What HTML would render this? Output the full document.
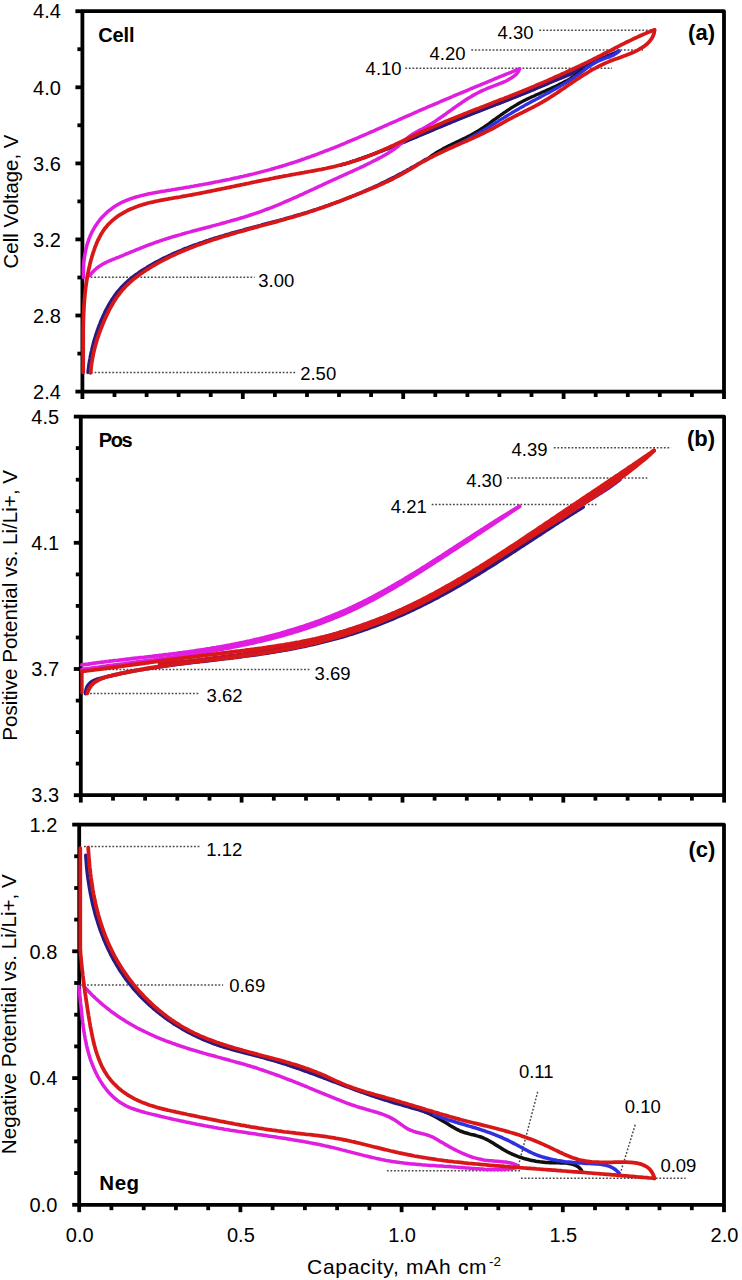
<!DOCTYPE html>
<html><head><meta charset="utf-8"><style>
html,body{margin:0;padding:0;background:#fff;}
svg{display:block;}
text{font-family:"Liberation Sans", sans-serif;fill:#000;}
</style></head><body>
<svg width="742" height="1280" viewBox="0 0 742 1280">
<rect width="742" height="1280" fill="#fff"/>
<line x1="75.4" y1="391.6" x2="82.4" y2="391.6" stroke="#000" stroke-width="3.8"/>
<line x1="77.4" y1="353.6" x2="82.4" y2="353.6" stroke="#000" stroke-width="3.8"/>
<line x1="75.4" y1="315.5" x2="82.4" y2="315.5" stroke="#000" stroke-width="3.8"/>
<line x1="77.4" y1="277.5" x2="82.4" y2="277.5" stroke="#000" stroke-width="3.8"/>
<line x1="75.4" y1="239.4" x2="82.4" y2="239.4" stroke="#000" stroke-width="3.8"/>
<line x1="77.4" y1="201.4" x2="82.4" y2="201.4" stroke="#000" stroke-width="3.8"/>
<line x1="75.4" y1="163.4" x2="82.4" y2="163.4" stroke="#000" stroke-width="3.8"/>
<line x1="77.4" y1="125.3" x2="82.4" y2="125.3" stroke="#000" stroke-width="3.8"/>
<line x1="75.4" y1="87.3" x2="82.4" y2="87.3" stroke="#000" stroke-width="3.8"/>
<line x1="77.4" y1="49.2" x2="82.4" y2="49.2" stroke="#000" stroke-width="3.8"/>
<line x1="75.4" y1="11.2" x2="82.4" y2="11.2" stroke="#000" stroke-width="3.8"/>
<line x1="82.4" y1="391.6" x2="82.4" y2="399.0" stroke="#000" stroke-width="3.8"/>
<line x1="114.5" y1="391.6" x2="114.5" y2="397.0" stroke="#000" stroke-width="3.8"/>
<line x1="146.6" y1="391.6" x2="146.6" y2="397.0" stroke="#000" stroke-width="3.8"/>
<line x1="178.6" y1="391.6" x2="178.6" y2="397.0" stroke="#000" stroke-width="3.8"/>
<line x1="210.7" y1="391.6" x2="210.7" y2="397.0" stroke="#000" stroke-width="3.8"/>
<line x1="242.8" y1="391.6" x2="242.8" y2="399.0" stroke="#000" stroke-width="3.8"/>
<line x1="274.9" y1="391.6" x2="274.9" y2="397.0" stroke="#000" stroke-width="3.8"/>
<line x1="307.0" y1="391.6" x2="307.0" y2="397.0" stroke="#000" stroke-width="3.8"/>
<line x1="339.0" y1="391.6" x2="339.0" y2="397.0" stroke="#000" stroke-width="3.8"/>
<line x1="371.1" y1="391.6" x2="371.1" y2="397.0" stroke="#000" stroke-width="3.8"/>
<line x1="403.2" y1="391.6" x2="403.2" y2="399.0" stroke="#000" stroke-width="3.8"/>
<line x1="435.3" y1="391.6" x2="435.3" y2="397.0" stroke="#000" stroke-width="3.8"/>
<line x1="467.4" y1="391.6" x2="467.4" y2="397.0" stroke="#000" stroke-width="3.8"/>
<line x1="499.4" y1="391.6" x2="499.4" y2="397.0" stroke="#000" stroke-width="3.8"/>
<line x1="531.5" y1="391.6" x2="531.5" y2="397.0" stroke="#000" stroke-width="3.8"/>
<line x1="563.6" y1="391.6" x2="563.6" y2="399.0" stroke="#000" stroke-width="3.8"/>
<line x1="595.7" y1="391.6" x2="595.7" y2="397.0" stroke="#000" stroke-width="3.8"/>
<line x1="627.8" y1="391.6" x2="627.8" y2="397.0" stroke="#000" stroke-width="3.8"/>
<line x1="659.8" y1="391.6" x2="659.8" y2="397.0" stroke="#000" stroke-width="3.8"/>
<line x1="691.9" y1="391.6" x2="691.9" y2="397.0" stroke="#000" stroke-width="3.8"/>
<line x1="724.0" y1="391.6" x2="724.0" y2="399.0" stroke="#000" stroke-width="3.8"/>
<path d="M82.4 11.2 L724.0 11.2 L724.0 391.6 L82.4 391.6 Z" fill="none" stroke="#000" stroke-width="3.8" stroke-linejoin="round"/>
<text x="60.9" y="18.4" font-size="20" text-anchor="end">4.4</text>
<text x="60.9" y="94.5" font-size="20" text-anchor="end">4.0</text>
<text x="60.9" y="170.6" font-size="20" text-anchor="end">3.6</text>
<text x="60.9" y="246.6" font-size="20" text-anchor="end">3.2</text>
<text x="60.9" y="322.7" font-size="20" text-anchor="end">2.8</text>
<text x="60.9" y="398.8" font-size="20" text-anchor="end">2.4</text>
<line x1="73.8" y1="795.2" x2="80.8" y2="795.2" stroke="#000" stroke-width="3.8"/>
<line x1="75.8" y1="763.6" x2="80.8" y2="763.6" stroke="#000" stroke-width="3.8"/>
<line x1="75.8" y1="732.1" x2="80.8" y2="732.1" stroke="#000" stroke-width="3.8"/>
<line x1="75.8" y1="700.6" x2="80.8" y2="700.6" stroke="#000" stroke-width="3.8"/>
<line x1="73.8" y1="669.0" x2="80.8" y2="669.0" stroke="#000" stroke-width="3.8"/>
<line x1="75.8" y1="637.5" x2="80.8" y2="637.5" stroke="#000" stroke-width="3.8"/>
<line x1="75.8" y1="605.9" x2="80.8" y2="605.9" stroke="#000" stroke-width="3.8"/>
<line x1="75.8" y1="574.4" x2="80.8" y2="574.4" stroke="#000" stroke-width="3.8"/>
<line x1="73.8" y1="542.8" x2="80.8" y2="542.8" stroke="#000" stroke-width="3.8"/>
<line x1="75.8" y1="511.2" x2="80.8" y2="511.2" stroke="#000" stroke-width="3.8"/>
<line x1="75.8" y1="479.7" x2="80.8" y2="479.7" stroke="#000" stroke-width="3.8"/>
<line x1="75.8" y1="448.1" x2="80.8" y2="448.1" stroke="#000" stroke-width="3.8"/>
<line x1="73.8" y1="416.6" x2="80.8" y2="416.6" stroke="#000" stroke-width="3.8"/>
<line x1="80.8" y1="795.2" x2="80.8" y2="802.6" stroke="#000" stroke-width="3.8"/>
<line x1="113.0" y1="795.2" x2="113.0" y2="800.6" stroke="#000" stroke-width="3.8"/>
<line x1="145.1" y1="795.2" x2="145.1" y2="800.6" stroke="#000" stroke-width="3.8"/>
<line x1="177.3" y1="795.2" x2="177.3" y2="800.6" stroke="#000" stroke-width="3.8"/>
<line x1="209.5" y1="795.2" x2="209.5" y2="800.6" stroke="#000" stroke-width="3.8"/>
<line x1="241.6" y1="795.2" x2="241.6" y2="802.6" stroke="#000" stroke-width="3.8"/>
<line x1="273.8" y1="795.2" x2="273.8" y2="800.6" stroke="#000" stroke-width="3.8"/>
<line x1="306.0" y1="795.2" x2="306.0" y2="800.6" stroke="#000" stroke-width="3.8"/>
<line x1="338.1" y1="795.2" x2="338.1" y2="800.6" stroke="#000" stroke-width="3.8"/>
<line x1="370.3" y1="795.2" x2="370.3" y2="800.6" stroke="#000" stroke-width="3.8"/>
<line x1="402.5" y1="795.2" x2="402.5" y2="802.6" stroke="#000" stroke-width="3.8"/>
<line x1="434.6" y1="795.2" x2="434.6" y2="800.6" stroke="#000" stroke-width="3.8"/>
<line x1="466.8" y1="795.2" x2="466.8" y2="800.6" stroke="#000" stroke-width="3.8"/>
<line x1="498.9" y1="795.2" x2="498.9" y2="800.6" stroke="#000" stroke-width="3.8"/>
<line x1="531.1" y1="795.2" x2="531.1" y2="800.6" stroke="#000" stroke-width="3.8"/>
<line x1="563.3" y1="795.2" x2="563.3" y2="802.6" stroke="#000" stroke-width="3.8"/>
<line x1="595.4" y1="795.2" x2="595.4" y2="800.6" stroke="#000" stroke-width="3.8"/>
<line x1="627.6" y1="795.2" x2="627.6" y2="800.6" stroke="#000" stroke-width="3.8"/>
<line x1="659.8" y1="795.2" x2="659.8" y2="800.6" stroke="#000" stroke-width="3.8"/>
<line x1="691.9" y1="795.2" x2="691.9" y2="800.6" stroke="#000" stroke-width="3.8"/>
<line x1="724.1" y1="795.2" x2="724.1" y2="802.6" stroke="#000" stroke-width="3.8"/>
<path d="M80.8 416.6 L724.1 416.6 L724.1 795.2 L80.8 795.2 Z" fill="none" stroke="#000" stroke-width="3.8" stroke-linejoin="round"/>
<text x="59.1" y="423.8" font-size="20" text-anchor="end">4.5</text>
<text x="59.1" y="550.0" font-size="20" text-anchor="end">4.1</text>
<text x="59.1" y="676.2" font-size="20" text-anchor="end">3.7</text>
<text x="59.1" y="802.4" font-size="20" text-anchor="end">3.3</text>
<line x1="72.2" y1="1204.8" x2="79.2" y2="1204.8" stroke="#000" stroke-width="3.8"/>
<line x1="74.2" y1="1173.1" x2="79.2" y2="1173.1" stroke="#000" stroke-width="3.8"/>
<line x1="74.2" y1="1141.4" x2="79.2" y2="1141.4" stroke="#000" stroke-width="3.8"/>
<line x1="74.2" y1="1109.8" x2="79.2" y2="1109.8" stroke="#000" stroke-width="3.8"/>
<line x1="72.2" y1="1078.1" x2="79.2" y2="1078.1" stroke="#000" stroke-width="3.8"/>
<line x1="74.2" y1="1046.4" x2="79.2" y2="1046.4" stroke="#000" stroke-width="3.8"/>
<line x1="74.2" y1="1014.7" x2="79.2" y2="1014.7" stroke="#000" stroke-width="3.8"/>
<line x1="74.2" y1="983.0" x2="79.2" y2="983.0" stroke="#000" stroke-width="3.8"/>
<line x1="72.2" y1="951.3" x2="79.2" y2="951.3" stroke="#000" stroke-width="3.8"/>
<line x1="74.2" y1="919.6" x2="79.2" y2="919.6" stroke="#000" stroke-width="3.8"/>
<line x1="74.2" y1="888.0" x2="79.2" y2="888.0" stroke="#000" stroke-width="3.8"/>
<line x1="74.2" y1="856.3" x2="79.2" y2="856.3" stroke="#000" stroke-width="3.8"/>
<line x1="72.2" y1="824.6" x2="79.2" y2="824.6" stroke="#000" stroke-width="3.8"/>
<line x1="79.2" y1="1204.8" x2="79.2" y2="1212.2" stroke="#000" stroke-width="3.8"/>
<line x1="111.4" y1="1204.8" x2="111.4" y2="1210.2" stroke="#000" stroke-width="3.8"/>
<line x1="143.7" y1="1204.8" x2="143.7" y2="1210.2" stroke="#000" stroke-width="3.8"/>
<line x1="175.9" y1="1204.8" x2="175.9" y2="1210.2" stroke="#000" stroke-width="3.8"/>
<line x1="208.2" y1="1204.8" x2="208.2" y2="1210.2" stroke="#000" stroke-width="3.8"/>
<line x1="240.4" y1="1204.8" x2="240.4" y2="1212.2" stroke="#000" stroke-width="3.8"/>
<line x1="272.6" y1="1204.8" x2="272.6" y2="1210.2" stroke="#000" stroke-width="3.8"/>
<line x1="304.9" y1="1204.8" x2="304.9" y2="1210.2" stroke="#000" stroke-width="3.8"/>
<line x1="337.1" y1="1204.8" x2="337.1" y2="1210.2" stroke="#000" stroke-width="3.8"/>
<line x1="369.4" y1="1204.8" x2="369.4" y2="1210.2" stroke="#000" stroke-width="3.8"/>
<line x1="401.6" y1="1204.8" x2="401.6" y2="1212.2" stroke="#000" stroke-width="3.8"/>
<line x1="433.8" y1="1204.8" x2="433.8" y2="1210.2" stroke="#000" stroke-width="3.8"/>
<line x1="466.1" y1="1204.8" x2="466.1" y2="1210.2" stroke="#000" stroke-width="3.8"/>
<line x1="498.3" y1="1204.8" x2="498.3" y2="1210.2" stroke="#000" stroke-width="3.8"/>
<line x1="530.6" y1="1204.8" x2="530.6" y2="1210.2" stroke="#000" stroke-width="3.8"/>
<line x1="562.8" y1="1204.8" x2="562.8" y2="1212.2" stroke="#000" stroke-width="3.8"/>
<line x1="595.0" y1="1204.8" x2="595.0" y2="1210.2" stroke="#000" stroke-width="3.8"/>
<line x1="627.3" y1="1204.8" x2="627.3" y2="1210.2" stroke="#000" stroke-width="3.8"/>
<line x1="659.5" y1="1204.8" x2="659.5" y2="1210.2" stroke="#000" stroke-width="3.8"/>
<line x1="691.8" y1="1204.8" x2="691.8" y2="1210.2" stroke="#000" stroke-width="3.8"/>
<line x1="724.0" y1="1204.8" x2="724.0" y2="1212.2" stroke="#000" stroke-width="3.8"/>
<path d="M79.2 824.6 L724.0 824.6 L724.0 1204.8 L79.2 1204.8 Z" fill="none" stroke="#000" stroke-width="3.8" stroke-linejoin="round"/>
<text x="57.3" y="831.8" font-size="20" text-anchor="end">1.2</text>
<text x="57.3" y="958.5" font-size="20" text-anchor="end">0.8</text>
<text x="57.3" y="1085.3" font-size="20" text-anchor="end">0.4</text>
<text x="57.3" y="1212.0" font-size="20" text-anchor="end">0.0</text>
<line x1="539.3" y1="30.2" x2="655.2" y2="30.2" stroke="#4a4a4a" stroke-width="1.5" stroke-dasharray="1.8 1.75"/>
<text x="497.5" y="39.0" font-size="18.5" text-anchor="start">4.30</text>
<line x1="471.3" y1="50.0" x2="643.0" y2="50.0" stroke="#4a4a4a" stroke-width="1.5" stroke-dasharray="1.8 1.75"/>
<text x="429.5" y="60.3" font-size="18.5" text-anchor="start">4.20</text>
<line x1="405.3" y1="68.2" x2="612.0" y2="68.2" stroke="#4a4a4a" stroke-width="1.5" stroke-dasharray="1.8 1.75"/>
<text x="365.6" y="75.1" font-size="18.5" text-anchor="start">4.10</text>
<line x1="83.6" y1="277.2" x2="254.7" y2="277.2" stroke="#4a4a4a" stroke-width="1.5" stroke-dasharray="1.8 1.75"/>
<text x="258.3" y="286.7" font-size="18.5" text-anchor="start">3.00</text>
<line x1="91.0" y1="372.5" x2="296.5" y2="372.5" stroke="#4a4a4a" stroke-width="1.5" stroke-dasharray="1.8 1.75"/>
<text x="300.2" y="380.2" font-size="18.5" text-anchor="start">2.50</text>
<path d="M87.9 372.5 L88.1 370.5 L88.4 368.6 L88.6 366.6 L88.9 364.6 L89.2 362.6 L89.5 360.7 L89.9 358.7 L90.2 356.7 L90.6 354.7 L91.0 352.8 L91.5 350.8 L91.9 348.9 L92.4 346.9 L92.9 344.9 L93.4 343.0 L93.9 341.0 L94.5 339.1 L95.1 337.2 L95.7 335.2 L96.3 333.3 L97.0 331.4 L97.6 329.5 L98.3 327.6 L99.0 325.7 L99.8 323.8 L100.5 321.9 L101.3 320.0 L102.1 318.2 L102.9 316.3 L103.8 314.5 L104.6 312.6 L105.5 310.8 L106.4 309.0 L107.4 307.2 L108.4 305.4 L109.4 303.7 L110.4 302.0 L111.5 300.2 L112.5 298.6 L113.7 296.9 L114.8 295.3 L116.0 293.6 L117.2 292.1 L118.5 290.5 L119.8 289.0 L121.1 287.5 L122.5 286.1 L123.9 284.7 L125.3 283.3 L126.8 281.9 L128.3 280.6 L129.8 279.3 L131.3 278.1 L132.9 276.8 L134.5 275.6 L136.1 274.4 L137.8 273.3 L139.4 272.1 L141.1 271.0 L142.8 269.9 L144.5 268.8 L146.2 267.8 L147.9 266.7 L149.6 265.7 L151.4 264.7 L153.1 263.7 L154.8 262.8 L156.6 261.8 L158.4 260.9 L160.1 259.9 L161.9 259.0 L163.7 258.1 L165.5 257.2 L167.3 256.4 L169.1 255.5 L170.9 254.7 L172.7 253.8 L174.5 253.0 L176.4 252.2 L178.2 251.4 L180.0 250.7 L181.9 249.9 L183.7 249.1 L185.6 248.4 L187.4 247.7 L189.3 246.9 L191.2 246.2 L193.0 245.5 L194.9 244.8 L196.8 244.2 L198.7 243.5 L200.6 242.8 L202.5 242.2 L204.4 241.5 L206.3 240.9 L208.2 240.3 L210.1 239.6 L212.0 239.0 L213.9 238.4 L215.8 237.8 L217.7 237.2 L219.7 236.6 L221.6 236.0 L223.5 235.5 L225.5 234.9 L227.4 234.3 L229.3 233.8 L231.3 233.2 L233.2 232.7 L235.1 232.1 L237.1 231.6 L239.0 231.0 L241.0 230.5 L242.9 230.0 L244.9 229.4 L246.8 228.9 L248.8 228.4 L250.7 227.9 L252.7 227.3 L254.6 226.8 L256.6 226.3 L258.6 225.8 L260.5 225.3 L262.5 224.7 L264.4 224.2 L266.4 223.7 L268.3 223.2 L270.3 222.7 L272.3 222.1 L274.2 221.6 L276.2 221.1 L278.1 220.6 L280.1 220.0 L282.0 219.5 L284.0 219.0 L285.9 218.4 L287.9 217.9 L289.8 217.3 L291.8 216.8 L293.7 216.2 L295.6 215.7 L297.6 215.1 L299.5 214.5 L301.4 214.0 L303.4 213.4 L305.3 212.8 L307.2 212.2 L309.2 211.6 L311.1 211.0 L313.0 210.4 L314.9 209.8 L316.8 209.2 L318.7 208.5 L320.6 207.9 L322.5 207.3 L324.4 206.6 L326.3 205.9 L328.2 205.3 L330.1 204.6 L332.0 203.9 L333.9 203.3 L335.8 202.6 L337.7 201.9 L339.5 201.2 L341.4 200.5 L343.3 199.8 L345.2 199.0 L347.0 198.3 L348.9 197.6 L350.8 196.8 L352.6 196.1 L354.5 195.3 L356.3 194.6 L358.2 193.8 L360.0 193.0 L361.8 192.2 L363.7 191.4 L365.5 190.6 L367.4 189.8 L369.2 189.0 L371.0 188.2 L372.8 187.4 L374.7 186.5 L376.5 185.7 L378.3 184.9 L380.1 184.0 L381.9 183.1 L383.7 182.3 L385.5 181.4 L387.3 180.5 L389.1 179.6 L390.9 178.7 L392.7 177.8 L394.5 176.9 L396.2 176.0 L398.0 175.0 L399.8 174.1 L401.6 173.2 L403.3 172.2 L405.1 171.3 L406.8 170.3 L408.6 169.3 L410.3 168.3 L412.1 167.3 L413.8 166.4 L415.6 165.3 L417.3 164.3 L419.1 163.3 L420.8 162.3 L422.5 161.3 L424.2 160.2 L426.0 159.2" fill="none" stroke="#2a1a80" stroke-width="3.30" stroke-linecap="round" stroke-linejoin="round"/>
<path d="M341.0 165.0 L342.9 164.4 L344.9 163.8 L346.8 163.2 L348.7 162.6 L350.6 162.0 L352.6 161.3 L354.5 160.7 L356.4 160.1 L358.3 159.4 L360.2 158.7 L362.1 158.1 L364.0 157.4 L365.9 156.7 L367.8 156.0 L369.7 155.4 L371.6 154.7 L373.5 154.0 L375.4 153.3 L377.3 152.5 L379.2 151.8 L381.0 151.1 L382.9 150.4 L384.8 149.6 L386.7 148.9 L388.6 148.2 L390.4 147.4 L392.3 146.7 L394.2 145.9 L396.1 145.2 L397.9 144.4 L399.8 143.7 L401.7 142.9 L403.5 142.1 L405.4 141.4 L407.3 140.6 L409.1 139.8 L411.0 139.0 L412.8 138.3 L414.7 137.5 L416.6 136.7 L418.4 135.9 L420.3 135.1 L422.2 134.3 L424.0 133.6 L425.9 132.8 L427.7 132.0 L429.6 131.2 L431.5 130.4 L433.3 129.6 L435.2 128.8 L437.0 128.0 L438.9 127.3 L440.8 126.5 L442.6 125.7 L444.5 124.9 L446.3 124.1 L448.2 123.3 L450.1 122.6 L451.9 121.8 L453.8 121.0 L455.7 120.2 L457.5 119.5 L459.4 118.7 L461.3 117.9 L463.1 117.2 L465.0 116.4 L466.9 115.7 L468.8 114.9 L470.6 114.2 L472.5 113.4 L474.4 112.7 L476.3 111.9 L478.1 111.2 L480.0 110.5 L481.9 109.7 L483.8 109.0 L485.7 108.3 L487.6 107.5 L489.4 106.8 L491.3 106.1 L493.2 105.4 L495.1 104.6 L497.0 103.9 L498.9 103.2 L500.8 102.5 L502.6 101.7 L504.5 101.0 L506.4 100.3 L508.3 99.5 L510.2 98.8 L512.0 98.0 L513.9 97.3 L515.8 96.6 L517.7 95.8 L519.5 95.1 L521.4 94.3 L523.3 93.5 L525.2 92.8 L527.0 92.0 L528.9 91.2 L530.7 90.5 L532.6 89.7 L534.5 88.9 L536.3 88.1 L538.2 87.3 L540.0 86.5 L541.9 85.7 L543.7 84.9 L545.6 84.1 L547.4 83.3 L549.3 82.5 L551.1 81.7 L553.0 80.8 L554.8 80.0 L556.6 79.2 L558.5 78.3 L560.3 77.5 L562.1 76.6 L564.0 75.8 L565.8 74.9 L567.6 74.1 L569.5 73.2 L571.3 72.4 L573.1 71.5 L574.9 70.7 L576.8 69.8 L578.6 68.9 L580.4 68.1 L582.2 67.2 L584.1 66.4 L585.9 65.5 L587.7 64.7 L589.5 63.8 L591.4 63.0 L593.2 62.1 L595.0 61.3 L596.9 60.5 L598.7 59.6 L600.5 58.8 L602.4 58.0 L604.2 57.2 L606.1 56.4 L607.9 55.6 L609.8 54.8 L611.6 54.1 L613.5 53.3 L615.4 52.6 L617.2 51.8 L619.1 51.1" fill="none" stroke="#2a1a80" stroke-width="3.30" stroke-linecap="round" stroke-linejoin="round"/>
<path d="M341.0 165.0 L342.9 164.4 L344.9 163.8 L346.8 163.3 L348.7 162.7 L350.6 162.0 L352.6 161.4 L354.5 160.8 L356.4 160.2 L358.3 159.5 L360.2 158.9 L362.1 158.2 L364.0 157.6 L365.9 156.9 L367.8 156.2 L369.7 155.5 L371.6 154.8 L373.5 154.1 L375.4 153.4 L377.3 152.7 L379.2 152.0 L381.0 151.3 L382.9 150.6 L384.8 149.8 L386.7 149.1 L388.5 148.4 L390.4 147.6 L392.3 146.9 L394.2 146.1 L396.0 145.4 L397.9 144.6 L399.8 143.9 L401.6 143.1 L403.5 142.3 L405.4 141.6 L407.2 140.8 L409.1 140.0 L410.9 139.2 L412.8 138.5 L414.7 137.7 L416.5 136.9 L418.4 136.1 L420.2 135.3 L422.1 134.6 L423.9 133.8 L425.8 133.0 L427.7 132.2 L429.5 131.4 L431.4 130.6 L433.2 129.9 L435.1 129.1 L436.9 128.3 L438.8 127.5 L440.7 126.7 L442.5 125.9 L444.4 125.2 L446.2 124.4 L448.1 123.6 L450.0 122.9 L451.8 122.1 L453.7 121.3 L455.6 120.6 L457.4 119.8 L459.3 119.0 L461.2 118.3 L463.0 117.5 L464.9 116.8 L466.8 116.0 L468.7 115.3 L470.5 114.6 L472.4 113.8 L474.3 113.1 L476.2 112.3 L478.0 111.6 L479.9 110.9 L481.8 110.1 L483.7 109.4 L485.5 108.7 L487.4 108.0 L489.3 107.2 L491.2 106.5 L493.1 105.8 L494.9 105.0 L496.8 104.3 L498.7 103.6 L500.6 102.9 L502.5 102.1 L504.3 101.4 L506.2 100.7 L508.1 99.9 L510.0 99.2 L511.8 98.4 L513.7 97.7 L515.6 97.0 L517.5 96.2 L519.3 95.5 L521.2 94.7 L523.1 94.0 L525.0 93.2 L526.8 92.4 L528.7 91.7 L530.6 90.9 L532.4 90.1 L534.3 89.4 L536.2 88.6 L538.0 87.8 L539.9 87.0 L541.7 86.2 L543.6 85.4 L545.5 84.7 L547.3 83.9 L549.2 83.1 L551.0 82.3 L552.9 81.5 L554.7 80.8 L556.6 80.0 L558.4 79.2 L560.3 78.5 L562.1 77.7 L564.0 77.0 L565.8 76.3 L567.7 75.5 L569.5 74.8 L571.4 74.1 L573.2 73.4 L575.1 72.7 L576.9 72.0 L578.8 71.4 L580.6 70.7 L582.5 70.1" fill="none" stroke="#2a1a80" stroke-width="3.30" stroke-linecap="round" stroke-linejoin="round"/>
<path d="M582.5 70.1 L580.9 71.4 L579.3 72.6 L577.6 73.9 L576.0 75.0 L574.3 76.2 L572.6 77.3 L570.8 78.3 L569.1 79.4 L567.3 80.4 L565.5 81.3 L563.7 82.3 L561.9 83.2 L560.1 84.1 L558.3 85.0 L556.4 85.9 L554.6 86.8 L552.7 87.6 L550.9 88.5 L549.0 89.3 L547.1 90.1 L545.3 90.9 L543.4 91.7 L541.5 92.6 L539.7 93.4 L537.8 94.2 L535.9 95.0 L534.1 95.9 L532.2 96.7 L530.4 97.6 L528.5 98.4 L526.7 99.3 L524.9 100.2 L523.1 101.1 L521.3 102.1 L519.5 103.0 L517.8 104.0 L516.0 105.1 L514.3 106.1 L512.6 107.1 L510.9 108.2 L509.2 109.3 L507.5 110.4 L505.8 111.6 L504.1 112.7 L502.5 113.9 L500.8 115.0 L499.2 116.2 L497.5 117.4 L495.9 118.6 L494.3 119.7 L492.6 120.9 L491.0 122.1 L489.4 123.3 L487.7 124.5 L486.1 125.6 L484.4 126.8 L482.8 127.9 L481.1 129.0 L479.4 130.1 L477.7 131.1 L475.9 132.2 L474.2 133.2 L472.4 134.2 L470.7 135.1 L468.9 136.1 L467.1 137.0 L465.3 137.9 L463.4 138.8 L461.6 139.7 L459.8 140.6 L457.9 141.4 L456.1 142.3 L454.3 143.2 L452.4 144.1 L450.6 144.9 L448.8 145.8 L447.0 146.7 L445.1 147.7 L443.3 148.6 L441.6 149.6 L439.8 150.6 L438.0 151.6 L436.3 152.7 L434.6 153.8 L432.9 154.9 L431.2 156.1 L429.6 157.3 L428.0 158.6" fill="none" stroke="#101010" stroke-width="3.30" stroke-linecap="round" stroke-linejoin="round"/>
<path d="M619.1 51.1 L617.6 52.5 L616.0 53.7 L614.3 54.7 L612.6 55.6 L610.7 56.4 L608.8 57.2 L606.9 57.8 L604.9 58.5 L603.0 59.2 L601.1 59.9 L599.2 60.7 L597.4 61.5 L595.6 62.5 L593.8 63.5 L592.1 64.6 L590.4 65.7 L588.7 66.8 L587.1 68.0 L585.4 69.2 L583.8 70.5 L582.1 71.7 L580.5 72.9 L578.9 74.1 L577.2 75.3 L575.5 76.5 L573.8 77.6 L572.1 78.8 L570.4 79.9 L568.7 81.0 L567.0 82.1 L565.3 83.1 L563.5 84.2 L561.8 85.2 L560.0 86.3 L558.3 87.3 L556.5 88.3 L554.7 89.3 L552.9 90.3 L551.2 91.2 L549.4 92.2 L547.6 93.2 L545.8 94.1 L544.0 95.1 L542.2 96.1 L540.4 97.0 L538.6 98.0 L536.8 98.9 L535.0 99.9 L533.2 100.8 L531.4 101.8 L529.6 102.8 L527.8 103.7 L526.0 104.7 L524.3 105.7 L522.5 106.7 L520.7 107.7 L519.0 108.7 L517.2 109.7 L515.4 110.7 L513.7 111.8 L511.9 112.8 L510.2 113.9 L508.5 114.9 L506.7 116.0 L505.0 117.0 L503.3 118.1 L501.5 119.2 L499.8 120.2 L498.1 121.3 L496.3 122.4 L494.6 123.5 L492.9 124.5 L491.1 125.6 L489.4 126.7 L487.7 127.7 L485.9 128.8 L484.2 129.8 L482.5 130.9 L480.7 131.9 L479.0 133.0 L477.2 134.0 L475.4 135.0 L473.7 136.0 L471.9 137.0 L470.1 138.0 L468.3 139.0 L466.5 139.9 L464.7 140.9 L462.9 141.8 L461.1 142.8 L459.3 143.7 L457.4 144.6 L455.6 145.5 L453.7 146.3 L451.9 147.2 L450.0 148.0" fill="none" stroke="#3030e0" stroke-width="3.30" stroke-linecap="round" stroke-linejoin="round"/>
<path d="M83.5 277.5 L83.4 275.5 L83.4 273.6 L83.4 271.6 L83.4 269.6 L83.5 267.6 L83.6 265.5 L83.7 263.5 L83.9 261.5 L84.1 259.4 L84.4 257.4 L84.7 255.4 L85.1 253.3 L85.5 251.3 L85.9 249.3 L86.4 247.3 L86.9 245.3 L87.5 243.3 L88.2 241.4 L88.8 239.4 L89.6 237.5 L90.3 235.6 L91.2 233.8 L92.0 232.0 L93.0 230.2 L94.0 228.4 L95.0 226.7 L96.1 225.0 L97.2 223.4 L98.4 221.8 L99.6 220.2 L100.8 218.7 L102.1 217.2 L103.5 215.8 L104.9 214.4 L106.3 213.0 L107.7 211.7 L109.2 210.5 L110.8 209.3 L112.3 208.1 L113.9 207.0 L115.5 205.9 L117.2 204.9 L118.9 204.0 L120.6 203.0 L122.3 202.2 L124.1 201.4 L125.9 200.6 L127.7 199.8 L129.6 199.1 L131.4 198.5 L133.3 197.9 L135.2 197.3 L137.1 196.7 L139.1 196.2 L141.0 195.6 L143.0 195.2 L145.0 194.7 L146.9 194.3 L148.9 193.8 L150.9 193.4 L153.0 193.1 L155.0 192.7 L157.0 192.3 L159.0 192.0 L161.1 191.6 L163.1 191.3 L165.1 191.0 L167.2 190.6 L169.2 190.3 L171.3 190.0 L173.3 189.6 L175.3 189.3 L177.3 188.9 L179.4 188.6 L181.4 188.3 L183.4 187.9 L185.4 187.6 L187.4 187.2 L189.4 186.9 L191.4 186.5 L193.5 186.2 L195.5 185.8 L197.5 185.5 L199.5 185.1 L201.5 184.8 L203.4 184.4 L205.4 184.0 L207.4 183.7 L209.4 183.3 L211.4 182.9 L213.4 182.5 L215.4 182.1 L217.4 181.8 L219.3 181.4 L221.3 181.0 L223.3 180.6 L225.2 180.2 L227.2 179.8 L229.2 179.4 L231.1 178.9 L233.1 178.5 L235.1 178.1 L237.0 177.7 L239.0 177.2 L240.9 176.8 L242.9 176.4 L244.8 175.9 L246.8 175.5 L248.7 175.0 L250.7 174.5 L252.6 174.1 L254.6 173.6 L256.5 173.1 L258.4 172.6 L260.4 172.1 L262.3 171.6 L264.2 171.1 L266.1 170.6 L268.1 170.1 L270.0 169.6 L271.9 169.0 L273.8 168.5 L275.7 167.9 L277.7 167.4 L279.6 166.8 L281.5 166.3 L283.4 165.7 L285.3 165.1 L287.2 164.5 L289.1 163.9 L291.0 163.3 L292.9 162.7 L294.8 162.1 L296.7 161.5 L298.6 160.8 L300.5 160.2 L302.4 159.5 L304.3 158.9 L306.2 158.2 L308.0 157.5 L309.9 156.9 L311.8 156.2 L313.7 155.5 L315.6 154.8 L317.4 154.1 L319.3 153.4 L321.2 152.7 L323.1 152.0 L324.9 151.2 L326.8 150.5 L328.7 149.8 L330.6 149.0 L332.4 148.3 L334.3 147.6 L336.2 146.8 L338.0 146.1 L339.9 145.3 L341.7 144.5 L343.6 143.8 L345.5 143.0 L347.3 142.2 L349.2 141.4 L351.0 140.7 L352.9 139.9 L354.7 139.1 L356.6 138.3 L358.5 137.5 L360.3 136.7 L362.2 135.9 L364.0 135.1 L365.9 134.3 L367.7 133.5 L369.6 132.7 L371.4 131.9 L373.3 131.1 L375.1 130.3 L376.9 129.4 L378.8 128.6 L380.6 127.8 L382.5 127.0 L384.3 126.2 L386.2 125.4 L388.0 124.5 L389.9 123.7 L391.7 122.9 L393.6 122.1 L395.4 121.3 L397.2 120.5 L399.1 119.6 L400.9 118.8 L402.8 118.0 L404.6 117.2 L406.5 116.4 L408.3 115.6 L410.1 114.8 L412.0 114.0 L413.8 113.2 L415.7 112.3 L417.5 111.5 L419.4 110.7 L421.2 109.9 L423.0 109.1 L424.9 108.3 L426.7 107.5 L428.6 106.7 L430.4 106.0 L432.3 105.2 L434.1 104.4 L436.0 103.6 L437.8 102.8 L439.6 102.0 L441.5 101.2 L443.3 100.4 L445.2 99.6 L447.0 98.8 L448.9 98.1 L450.7 97.3 L452.6 96.5 L454.4 95.7 L456.3 94.9 L458.1 94.2 L460.0 93.4 L461.8 92.6 L463.7 91.8 L465.5 91.1 L467.4 90.3 L469.2 89.5 L471.1 88.7 L472.9 88.0 L474.8 87.2 L476.7 86.4 L478.5 85.6 L480.4 84.9 L482.2 84.1 L484.1 83.3 L485.9 82.6 L487.8 81.8 L489.7 81.0 L491.5 80.3 L493.4 79.5 L495.2 78.7 L497.1 78.0 L499.0 77.2 L500.8 76.4 L502.7 75.7 L504.6 74.9 L506.4 74.1 L508.3 73.4 L510.2 72.6 L512.0 71.9 L513.9 71.1 L515.8 70.3 L517.6 69.6 L519.5 68.8" fill="none" stroke="#e01ee0" stroke-width="3.52" stroke-linecap="round" stroke-linejoin="round"/>
<path d="M519.5 68.8 L518.9 70.5 L518.1 72.0 L517.0 73.4 L515.8 74.7 L514.3 75.9 L512.8 77.1 L511.2 78.1 L509.5 79.1 L507.8 80.1 L506.0 81.0 L504.1 81.8 L502.3 82.6 L500.4 83.4 L498.4 84.2 L496.5 84.9 L494.5 85.7 L492.6 86.4 L490.6 87.1 L488.7 87.9 L486.8 88.7 L484.9 89.5 L483.0 90.3 L481.1 91.2 L479.3 92.1 L477.5 93.0 L475.7 94.0 L474.0 94.9 L472.2 95.9 L470.5 97.0 L468.8 98.0 L467.1 99.1 L465.5 100.1 L463.8 101.2 L462.1 102.3 L460.5 103.5 L458.9 104.6 L457.2 105.7 L455.6 106.9 L454.0 108.0 L452.4 109.2 L450.7 110.4 L449.1 111.5 L447.5 112.7 L445.9 113.9 L444.2 115.0 L442.6 116.2 L441.0 117.3 L439.3 118.5 L437.6 119.6 L436.0 120.8 L434.3 121.9 L432.6 123.0 L430.9 124.0 L429.2 125.1 L427.4 126.1 L425.7 127.1 L423.9 128.0 L422.2 129.0 L420.4 129.9 L418.6 130.8 L416.9 131.7 L415.1 132.7 L413.4 133.7 L411.8 134.8 L410.1 135.9 L408.5 137.1 L407.0 138.3 L405.4 139.6 L403.9 140.9 L402.4 142.3 L400.9 143.6 L399.4 145.0 L397.9 146.3 L396.3 147.5 L394.7 148.8 L393.1 149.9 L391.4 151.1 L389.7 152.1 L388.0 153.2 L386.3 154.2 L384.5 155.2 L382.7 156.2 L381.0 157.2 L379.2 158.1 L377.4 159.1 L375.7 160.0 L373.9 160.9 L372.1 161.8 L370.3 162.7 L368.5 163.6 L366.7 164.5 L364.9 165.4 L363.0 166.3 L361.2 167.1 L359.4 168.0 L357.6 168.8 L355.8 169.7 L353.9 170.5 L352.1 171.4 L350.3 172.2 L348.4 173.0 L346.6 173.9 L344.8 174.7 L342.9 175.5 L341.1 176.4 L339.3 177.2 L337.4 178.0 L335.6 178.9 L333.8 179.7 L331.9 180.5 L330.1 181.4 L328.3 182.2 L326.4 183.0 L324.6 183.9 L322.8 184.7 L321.0 185.6 L319.1 186.4 L317.3 187.3 L315.5 188.1 L313.7 189.0 L311.8 189.8 L310.0 190.7 L308.2 191.5 L306.3 192.4 L304.5 193.2 L302.7 194.1 L300.9 194.9 L299.0 195.7 L297.2 196.6 L295.4 197.4 L293.5 198.2 L291.7 199.0 L289.8 199.8 L288.0 200.6 L286.2 201.4 L284.3 202.2 L282.5 203.0 L280.6 203.8 L278.8 204.6 L276.9 205.3 L275.0 206.1 L273.2 206.8 L271.3 207.6 L269.4 208.3 L267.6 209.0 L265.7 209.7 L263.8 210.4 L261.9 211.1 L260.0 211.8 L258.1 212.5 L256.2 213.1 L254.3 213.8 L252.4 214.4 L250.5 215.0 L248.6 215.7 L246.7 216.3 L244.7 216.9 L242.8 217.5 L240.9 218.0 L239.0 218.6 L237.0 219.2 L235.1 219.7 L233.1 220.3 L231.2 220.8 L229.3 221.4 L227.3 221.9 L225.4 222.5 L223.4 223.0 L221.5 223.5 L219.5 224.1 L217.6 224.6 L215.6 225.1 L213.7 225.6 L211.7 226.1 L209.8 226.7 L207.8 227.2 L205.8 227.7 L203.9 228.2 L201.9 228.7 L200.0 229.2 L198.0 229.8 L196.1 230.3 L194.1 230.8 L192.2 231.3 L190.2 231.9 L188.3 232.4 L186.3 232.9 L184.4 233.5 L182.5 234.0 L180.5 234.6 L178.6 235.1 L176.7 235.7 L174.7 236.3 L172.8 236.8 L170.9 237.4 L169.0 238.0 L167.0 238.6 L165.1 239.2 L163.2 239.9 L161.3 240.5 L159.4 241.1 L157.5 241.8 L155.6 242.4 L153.7 243.1 L151.8 243.8 L150.0 244.5 L148.1 245.2 L146.2 245.9 L144.4 246.6 L142.5 247.4 L140.6 248.1 L138.8 248.9 L136.9 249.6 L135.1 250.4 L133.2 251.2 L131.3 251.9 L129.5 252.7 L127.6 253.5 L125.7 254.2 L123.9 255.0 L122.0 255.8 L120.1 256.5 L118.2 257.3 L116.3 258.0 L114.4 258.8 L112.5 259.5 L110.7 260.3 L108.8 261.2 L107.0 262.0 L105.2 262.9 L103.4 263.8 L101.7 264.8 L100.0 265.9 L98.4 267.0 L96.8 268.2 L95.3 269.5 L93.8 270.9 L92.4 272.3 L91.1 273.9 L89.9 275.6" fill="none" stroke="#e01ee0" stroke-width="3.52" stroke-linecap="round" stroke-linejoin="round"/>
<path d="M83.2 372.5 L83.2 370.5 L83.2 368.6 L83.2 366.6 L83.2 364.7 L83.2 362.7 L83.2 360.7 L83.2 358.7 L83.2 356.7 L83.2 354.7 L83.2 352.7 L83.2 350.7 L83.2 348.7 L83.2 346.7 L83.2 344.7 L83.2 342.7 L83.2 340.7 L83.2 338.7 L83.2 336.7 L83.2 334.7 L83.2 332.6 L83.2 330.6 L83.2 328.6 L83.3 326.6 L83.3 324.5 L83.4 322.5 L83.4 320.5 L83.5 318.5 L83.5 316.4 L83.6 314.4 L83.7 312.4 L83.8 310.3 L83.9 308.3 L84.0 306.3 L84.1 304.3 L84.3 302.2 L84.4 300.2 L84.6 298.2 L84.8 296.2 L85.0 294.1 L85.2 292.1 L85.4 290.1 L85.6 288.1 L85.9 286.1 L86.2 284.1 L86.5 282.1 L86.8 280.1 L87.1 278.1 L87.4 276.1 L87.8 274.1 L88.2 272.1 L88.6 270.1 L89.0 268.2 L89.5 266.2 L89.9 264.2 L90.4 262.3 L90.9 260.3 L91.5 258.3 L92.0 256.4 L92.6 254.5 L93.2 252.5 L93.9 250.6 L94.5 248.7 L95.2 246.8 L96.0 244.9 L96.7 243.0 L97.5 241.2 L98.4 239.4 L99.3 237.6 L100.2 235.9 L101.1 234.1 L102.2 232.5 L103.2 230.8 L104.4 229.2 L105.5 227.7 L106.8 226.2 L108.0 224.7 L109.4 223.3 L110.8 222.0 L112.2 220.7 L113.7 219.4 L115.2 218.2 L116.7 217.0 L118.3 215.9 L119.9 214.8 L121.6 213.8 L123.3 212.8 L125.0 211.8 L126.8 210.9 L128.5 210.0 L130.3 209.2 L132.1 208.4 L134.0 207.7 L135.9 206.9 L137.7 206.3 L139.6 205.6 L141.6 205.0 L143.5 204.4 L145.4 203.9 L147.4 203.3 L149.4 202.8 L151.4 202.3 L153.4 201.9 L155.4 201.4 L157.4 201.0 L159.4 200.6 L161.4 200.2 L163.5 199.8 L165.5 199.4 L167.6 199.1 L169.6 198.7 L171.6 198.4 L173.7 198.0 L175.7 197.7 L177.8 197.3 L179.8 197.0 L181.8 196.6 L183.8 196.2 L185.9 195.9 L187.9 195.5 L189.9 195.2 L191.9 194.8 L193.9 194.4 L195.9 194.0 L197.9 193.7 L199.9 193.3 L201.9 192.9 L203.8 192.5 L205.8 192.1 L207.8 191.7 L209.8 191.3 L211.7 190.9 L213.7 190.5 L215.7 190.1 L217.6 189.7 L219.6 189.3 L221.5 188.9 L223.5 188.5 L225.4 188.1 L227.4 187.7 L229.3 187.3 L231.3 186.9 L233.2 186.5 L235.2 186.1 L237.1 185.7 L239.0 185.3 L241.0 184.9 L242.9 184.5 L244.9 184.1 L246.8 183.7 L248.8 183.3 L250.7 182.8 L252.6 182.4 L254.6 182.0 L256.5 181.6 L258.5 181.2 L260.4 180.8 L262.3 180.4 L264.3 180.0 L266.2 179.6 L268.2 179.3 L270.1 178.9 L272.1 178.5 L274.0 178.1 L276.0 177.7 L278.0 177.3 L279.9 176.9 L281.9 176.6 L283.8 176.2 L285.8 175.8 L287.8 175.5 L289.8 175.1 L291.7 174.7 L293.7 174.4 L295.7 174.0 L297.7 173.7 L299.7 173.3 L301.7 172.9 L303.7 172.6 L305.6 172.2 L307.6 171.9 L309.6 171.5 L311.6 171.2 L313.6 170.8 L315.6 170.4 L317.6 170.0 L319.6 169.6 L321.6 169.3 L323.6 168.9 L325.6 168.5 L327.5 168.0 L329.5 167.6 L331.5 167.2 L333.5 166.7 L335.4 166.3 L337.4 165.8 L339.4 165.3 L341.3 164.8 L343.3 164.3 L345.2 163.8 L347.1 163.3 L349.1 162.7 L351.0 162.1 L352.9 161.5 L354.8 160.9 L356.7 160.3 L358.6 159.7 L360.5 159.0 L362.4 158.3 L364.3 157.7 L366.2 157.0 L368.0 156.2 L369.9 155.5 L371.8 154.8 L373.6 154.0 L375.5 153.3 L377.3 152.5 L379.1 151.7 L381.0 150.9 L382.8 150.1 L384.7 149.3 L386.5 148.5 L388.3 147.7 L390.1 146.8 L392.0 146.0 L393.8 145.2 L395.6 144.3 L397.4 143.5 L399.2 142.6 L401.0 141.8 L402.9 140.9 L404.7 140.0 L406.5 139.2 L408.3 138.3 L410.1 137.5 L411.9 136.6 L413.8 135.7 L415.6 134.9 L417.4 134.0 L419.2 133.2 L421.0 132.3 L422.9 131.5 L424.7 130.7 L426.5 129.8 L428.3 129.0 L430.2 128.2 L432.0 127.4 L433.9 126.6 L435.7 125.8 L437.5 125.0 L439.4 124.2 L441.2 123.4 L443.1 122.6 L444.9 121.8 L446.8 121.0 L448.7 120.3 L450.5 119.5 L452.4 118.7 L454.2 118.0 L456.1 117.2 L458.0 116.5 L459.8 115.7 L461.7 115.0 L463.6 114.2 L465.4 113.5 L467.3 112.8 L469.2 112.0 L471.0 111.3 L472.9 110.5 L474.8 109.8 L476.7 109.1 L478.5 108.4 L480.4 107.6 L482.3 106.9 L484.2 106.2 L486.0 105.4 L487.9 104.7 L489.8 104.0 L491.7 103.3 L493.5 102.5 L495.4 101.8 L497.3 101.1 L499.2 100.3 L501.0 99.6 L502.9 98.9 L504.8 98.1 L506.6 97.4 L508.5 96.7 L510.4 95.9 L512.2 95.2 L514.1 94.5 L516.0 93.7 L517.8 93.0 L519.7 92.2 L521.6 91.5 L523.4 90.7 L525.3 89.9 L527.1 89.2 L529.0 88.4 L530.9 87.6 L532.7 86.9 L534.6 86.1 L536.4 85.3 L538.3 84.5 L540.1 83.7 L541.9 83.0 L543.8 82.2 L545.6 81.4 L547.5 80.6 L549.3 79.8 L551.1 79.0 L553.0 78.1 L554.8 77.3 L556.6 76.5 L558.5 75.7 L560.3 74.9 L562.1 74.0 L564.0 73.2 L565.8 72.4 L567.6 71.5 L569.4 70.7 L571.3 69.9 L573.1 69.0 L574.9 68.1 L576.7 67.3 L578.5 66.4 L580.3 65.6 L582.1 64.7 L583.9 63.8 L585.8 62.9 L587.6 62.1 L589.4 61.2 L591.2 60.3 L593.0 59.4 L594.8 58.5 L596.6 57.6 L598.3 56.7 L600.1 55.8 L601.9 54.9 L603.7 53.9 L605.5 53.0 L607.3 52.1 L609.1 51.2 L610.9 50.3 L612.7 49.3 L614.4 48.4 L616.2 47.5 L618.0 46.6 L619.8 45.7 L621.6 44.7 L623.4 43.8 L625.2 42.9 L627.0 42.0 L628.8 41.2 L630.6 40.3 L632.4 39.4 L634.2 38.5 L636.0 37.7 L637.9 36.9 L639.7 36.0 L641.5 35.2 L643.3 34.4 L645.2 33.6 L647.0 32.8 L648.9 32.1 L650.8 31.3 L652.6 30.6 L654.5 29.9" fill="none" stroke="#d81818" stroke-width="3.74" stroke-linecap="round" stroke-linejoin="round"/>
<path d="M654.5 29.9 L654.3 31.9 L653.9 33.8 L653.2 35.6 L652.4 37.3 L651.4 38.9 L650.3 40.5 L649.1 41.9 L647.7 43.3 L646.3 44.5 L644.8 45.7 L643.2 46.9 L641.6 47.9 L639.9 48.9 L638.2 49.9 L636.5 50.8 L634.7 51.7 L632.8 52.5 L631.0 53.3 L629.1 54.1 L627.2 54.8 L625.3 55.6 L623.3 56.3 L621.4 57.0 L619.4 57.7 L617.5 58.4 L615.5 59.1 L613.6 59.8 L611.6 60.5 L609.7 61.3 L607.8 62.1 L605.9 62.9 L604.1 63.7 L602.2 64.6 L600.4 65.5 L598.6 66.4 L596.8 67.3 L595.0 68.3 L593.3 69.2 L591.5 70.2 L589.8 71.2 L588.1 72.3 L586.4 73.3 L584.7 74.3 L583.0 75.4 L581.3 76.5 L579.6 77.6 L578.0 78.7 L576.3 79.8 L574.6 80.9 L573.0 82.0 L571.4 83.1 L569.7 84.2 L568.1 85.3 L566.4 86.5 L564.8 87.6 L563.2 88.7 L561.5 89.8 L559.9 90.9 L558.2 92.1 L556.6 93.2 L554.9 94.3 L553.3 95.4 L551.6 96.4 L549.9 97.5 L548.2 98.6 L546.5 99.6 L544.8 100.6 L543.1 101.6 L541.4 102.6 L539.6 103.6 L537.9 104.6 L536.1 105.5 L534.4 106.5 L532.6 107.4 L530.8 108.3 L529.0 109.2 L527.2 110.1 L525.4 111.0 L523.6 111.9 L521.8 112.8 L520.0 113.7 L518.2 114.6 L516.4 115.5 L514.6 116.4 L512.8 117.3 L511.0 118.3 L509.3 119.2 L507.5 120.2 L505.8 121.2 L504.0 122.2 L502.3 123.2 L500.6 124.2 L498.8 125.2 L497.1 126.2 L495.3 127.1 L493.6 128.1 L491.8 129.0 L490.0 129.9 L488.2 130.8 L486.4 131.7 L484.6 132.6 L482.8 133.5 L481.0 134.3 L479.2 135.2 L477.4 136.0 L475.6 136.9 L473.7 137.7 L471.9 138.5 L470.1 139.3 L468.3 140.2 L466.4 141.0 L464.6 141.8 L462.7 142.6 L460.9 143.4 L459.1 144.2 L457.2 145.0 L455.4 145.8 L453.6 146.7 L451.7 147.5 L449.9 148.3 L448.1 149.1 L446.2 150.0 L444.4 150.8 L442.6 151.7 L440.8 152.5 L439.0 153.4 L437.2 154.3 L435.4 155.2 L433.6 156.1 L431.8 157.0 L430.0 157.9 L428.2 158.8 L426.5 159.8 L424.7 160.8 L423.0 161.7 L421.2 162.7 L419.5 163.7 L417.8 164.7 L416.0 165.8 L414.3 166.8 L412.6 167.8 L410.9 168.8 L409.1 169.9 L407.4 170.9 L405.7 171.9 L403.9 172.9 L402.2 173.9 L400.4 174.8 L398.7 175.8 L396.9 176.7 L395.1 177.7 L393.3 178.6 L391.6 179.5 L389.8 180.4 L388.0 181.2 L386.1 182.1 L384.3 182.9 L382.5 183.8 L380.7 184.6 L378.8 185.4 L377.0 186.2 L375.2 187.0 L373.3 187.8 L371.5 188.6 L369.6 189.3 L367.8 190.1 L365.9 190.9 L364.1 191.6 L362.2 192.4 L360.4 193.1 L358.5 193.9 L356.6 194.6 L354.8 195.4 L352.9 196.1 L351.1 196.9 L349.2 197.6 L347.3 198.3 L345.5 199.1 L343.6 199.8 L341.7 200.5 L339.9 201.2 L338.0 201.9 L336.1 202.6 L334.2 203.3 L332.3 204.0 L330.5 204.7 L328.6 205.4 L326.7 206.0 L324.8 206.7 L322.9 207.4 L321.0 208.0 L319.1 208.7 L317.2 209.3 L315.3 210.0 L313.4 210.6 L311.5 211.2 L309.6 211.8 L307.7 212.5 L305.8 213.1 L303.9 213.7 L302.0 214.3 L300.0 214.9 L298.1 215.4 L296.2 216.0 L294.3 216.6 L292.3 217.2 L290.4 217.7 L288.5 218.3 L286.5 218.8 L284.6 219.4 L282.7 219.9 L280.7 220.5 L278.8 221.0 L276.8 221.6 L274.9 222.1 L272.9 222.6 L271.0 223.2 L269.0 223.7 L267.1 224.2 L265.2 224.8 L263.2 225.3 L261.3 225.8 L259.3 226.3 L257.4 226.9 L255.4 227.4 L253.5 227.9 L251.5 228.5 L249.6 229.0 L247.6 229.5 L245.7 230.1 L243.8 230.6 L241.8 231.2 L239.9 231.7 L237.9 232.3 L236.0 232.8 L234.1 233.4 L232.1 233.9 L230.2 234.5 L228.3 235.1 L226.4 235.6 L224.4 236.2 L222.5 236.8 L220.6 237.4 L218.7 238.0 L216.8 238.6 L214.9 239.2 L213.0 239.8 L211.0 240.5 L209.1 241.1 L207.3 241.7 L205.4 242.4 L203.5 243.0 L201.6 243.7 L199.7 244.4 L197.8 245.1 L196.0 245.8 L194.1 246.5 L192.2 247.2 L190.4 247.9 L188.5 248.7 L186.7 249.4 L184.8 250.2 L183.0 250.9 L181.1 251.7 L179.3 252.5 L177.5 253.3 L175.7 254.2 L173.9 255.0 L172.1 255.8 L170.3 256.7 L168.5 257.6 L166.7 258.5 L164.9 259.4 L163.1 260.3 L161.4 261.2 L159.6 262.2 L157.8 263.2 L156.1 264.2 L154.4 265.2 L152.6 266.2 L150.9 267.2 L149.2 268.3 L147.5 269.3 L145.8 270.4 L144.1 271.5 L142.4 272.7 L140.8 273.8 L139.1 275.0 L137.5 276.2 L135.9 277.4 L134.3 278.6 L132.8 279.9 L131.2 281.2 L129.7 282.6 L128.3 283.9 L126.8 285.3 L125.4 286.7 L124.1 288.2 L122.7 289.6 L121.4 291.2 L120.2 292.7 L119.0 294.3 L117.8 295.9 L116.6 297.5 L115.5 299.2 L114.4 300.9 L113.4 302.6 L112.4 304.3 L111.4 306.1 L110.4 307.9 L109.4 309.7 L108.5 311.5 L107.6 313.3 L106.8 315.1 L105.9 316.9 L105.1 318.8 L104.3 320.6 L103.5 322.5 L102.7 324.3 L102.0 326.2 L101.2 328.1 L100.5 329.9 L99.8 331.8 L99.1 333.7 L98.5 335.6 L97.8 337.5 L97.2 339.4 L96.6 341.3 L96.1 343.2 L95.5 345.2 L95.0 347.1 L94.5 349.0 L94.0 351.0 L93.6 352.9 L93.2 354.9 L92.8 356.8 L92.4 358.8 L92.1 360.8 L91.7 362.8 L91.5 364.8 L91.2 366.8 L91.0 368.8 L90.8 370.8 L90.6 372.8" fill="none" stroke="#d81818" stroke-width="3.74" stroke-linecap="round" stroke-linejoin="round"/>
<line x1="553.8" y1="447.8" x2="671.1" y2="447.8" stroke="#4a4a4a" stroke-width="1.5" stroke-dasharray="1.8 1.75"/>
<text x="511.5" y="456.4" font-size="18.5" text-anchor="start">4.39</text>
<line x1="507.2" y1="478.0" x2="647.3" y2="478.0" stroke="#4a4a4a" stroke-width="1.5" stroke-dasharray="1.8 1.75"/>
<text x="466.2" y="486.6" font-size="18.5" text-anchor="start">4.30</text>
<line x1="431.7" y1="504.4" x2="596.5" y2="504.4" stroke="#4a4a4a" stroke-width="1.5" stroke-dasharray="1.8 1.75"/>
<text x="390.8" y="512.6" font-size="18.5" text-anchor="start">4.21</text>
<line x1="84.0" y1="669.5" x2="310.5" y2="669.5" stroke="#4a4a4a" stroke-width="1.5" stroke-dasharray="1.8 1.75"/>
<text x="314.6" y="680.2" font-size="18.5" text-anchor="start">3.69</text>
<line x1="90.0" y1="693.4" x2="199.3" y2="693.4" stroke="#4a4a4a" stroke-width="1.5" stroke-dasharray="1.8 1.75"/>
<text x="206.6" y="702.4" font-size="18.5" text-anchor="start">3.62</text>
<path d="M85.6 693.6 L85.9 691.0 L86.4 688.7 L87.2 686.7 L88.3 685.0 L89.5 683.6 L90.9 682.3 L92.4 681.3 L94.1 680.4 L95.9 679.7 L97.7 679.0 L99.6 678.5 L101.6 678.0 L103.5 677.5 L105.5 677.0 L107.5 676.5 L109.4 676.0 L111.4 675.6 L113.3 675.1 L115.3 674.7 L117.3 674.3 L119.2 673.8 L121.2 673.4 L123.2 673.0 L125.1 672.6 L127.1 672.2 L129.1 671.9 L131.1 671.5 L133.0 671.1 L135.0 670.7 L137.0 670.4 L139.0 670.0 L141.0 669.7 L142.9 669.4 L144.9 669.0 L146.9 668.7 L148.9 668.4 L150.9 668.1 L152.8 667.8 L154.8 667.5 L156.8 667.2 L158.8 666.9 L160.8 666.6 L162.8 666.3 L164.8 666.0 L166.8 665.8 L168.8 665.5 L170.8 665.2 L172.7 665.0 L174.7 664.7 L176.7 664.4 L178.7 664.2 L180.7 663.9 L182.7 663.7 L184.7 663.4 L186.7 663.2 L188.7 663.0 L190.7 662.7 L192.7 662.5 L194.7 662.2 L196.7 662.0 L198.7 661.8 L200.7 661.5 L202.7 661.3 L204.7 661.1 L206.7 660.8 L208.7 660.6 L210.7 660.4 L212.7 660.1 L214.7 659.9 L216.7 659.7 L218.7 659.4 L220.7 659.2 L222.7 659.0 L224.7 658.7 L226.7 658.5 L228.7 658.3 L230.7 658.0 L232.7 657.8 L234.7 657.5 L236.7 657.3 L238.7 657.0 L240.7 656.8 L242.7 656.5 L244.7 656.2 L246.7 656.0 L248.7 655.7 L250.7 655.4 L252.7 655.2 L254.7 654.9 L256.7 654.6 L258.7 654.3 L260.7 654.0 L262.7 653.7 L264.7 653.4 L266.7 653.1 L268.7 652.8 L270.7 652.5 L272.7 652.2 L274.6 651.9 L276.6 651.5 L278.6 651.2 L280.6 650.8 L282.6 650.5 L284.6 650.2 L286.6 649.8 L288.5 649.4 L290.5 649.1 L292.5 648.7 L294.5 648.3 L296.5 647.9 L298.4 647.5 L300.4 647.1 L302.4 646.7 L304.4 646.3 L306.3 645.9 L308.3 645.5 L310.3 645.0 L312.2 644.6 L314.2 644.2 L316.1 643.7 L318.1 643.3 L320.1 642.8 L322.0 642.3 L324.0 641.8 L325.9 641.3 L327.9 640.8 L329.8 640.3 L331.7 639.8 L333.7 639.3 L335.6 638.8 L337.6 638.2 L339.5 637.7 L341.4 637.1 L343.4 636.6 L345.3 636.0 L347.2 635.4 L349.1 634.8 L351.0 634.2 L353.0 633.6 L354.9 633.0 L356.8 632.4 L358.7 631.8 L360.6 631.1 L362.5 630.5 L364.4 629.8 L366.3 629.2 L368.2 628.5 L370.1 627.8 L372.0 627.1 L373.9 626.4 L375.7 625.7 L377.6 625.0 L379.5 624.3 L381.4 623.5 L383.2 622.8 L385.1 622.0 L387.0 621.3 L388.8 620.5 L390.7 619.8 L392.5 619.0 L394.4 618.2 L396.2 617.4 L398.1 616.6 L399.9 615.8 L401.8 615.0 L403.6 614.2 L405.5 613.3 L407.3 612.5 L409.1 611.7 L410.9 610.8 L412.8 610.0 L414.6 609.1 L416.4 608.2 L418.2 607.4 L420.0 606.5 L421.8 605.6 L423.6 604.7 L425.4 603.8 L427.2 602.9 L429.0 602.0 L430.8 601.1 L432.6 600.1 L434.4 599.2 L436.2 598.3 L438.0 597.3 L439.7 596.4 L441.5 595.4 L443.3 594.5 L445.0 593.5 L446.8 592.5 L448.6 591.6 L450.3 590.6 L452.1 589.6 L453.8 588.6 L455.6 587.6 L457.3 586.6 L459.1 585.6 L460.8 584.6 L462.5 583.6 L464.3 582.6 L466.0 581.6 L467.7 580.5 L469.5 579.5 L471.2 578.5 L472.9 577.4 L474.6 576.4 L476.4 575.4 L478.1 574.3 L479.8 573.3 L481.5 572.2 L483.2 571.2 L484.9 570.1 L486.6 569.0 L488.3 568.0 L490.0 566.9 L491.7 565.8 L493.4 564.8 L495.2 563.7 L496.8 562.6 L498.5 561.5 L500.2 560.4 L501.9 559.4 L503.6 558.3 L505.3 557.2 L507.0 556.1 L508.7 555.0 L510.4 553.9 L512.1 552.8 L513.8 551.7 L515.5 550.6 L517.2 549.5 L518.8 548.4 L520.5 547.3 L522.2 546.2 L523.9 545.1 L525.6 544.0 L527.3 542.9 L529.0 541.8 L530.6 540.7 L532.3 539.6 L534.0 538.5 L535.7 537.4 L537.4 536.3 L539.1 535.2 L540.7 534.1 L542.4 533.0 L544.1 531.9 L545.8 530.8 L547.5 529.7 L549.2 528.6 L550.9 527.5 L552.6 526.4 L554.2 525.3 L555.9 524.2 L557.6 523.1 L559.3 522.0 L561.0 521.0 L562.7 519.9 L564.4 518.8 L566.1 517.7 L567.8 516.6 L569.5 515.5 L571.2 514.5 L572.9 513.4 L574.6 512.3 L576.3 511.3 L578.0 510.2 L579.7 509.1 L581.4 508.1 L583.1 507.0" fill="none" stroke="#2a1a80" stroke-width="3.74" stroke-linecap="round" stroke-linejoin="round"/>
<path d="M560.0 520.0 L561.6 518.7 L563.3 517.4 L564.9 516.2 L566.6 514.9 L568.3 513.7 L569.9 512.5 L571.6 511.4 L573.4 510.2 L575.1 509.1 L576.8 507.9 L578.6 506.8 L580.3 505.7 L582.0 504.6 L583.8 503.5 L585.6 502.4 L587.3 501.3 L589.1 500.2 L590.9 499.2 L592.6 498.1 L594.4 497.0 L596.1 495.9 L597.9 494.8 L599.6 493.7 L601.4 492.6 L603.1 491.5 L604.9 490.4 L606.6 489.2 L608.3 488.1 L610.0 486.9 L611.7 485.7 L613.4 484.5 L615.1 483.3 L616.7 482.1 L618.4 480.8 L620.0 479.5" fill="none" stroke="#6020a0" stroke-width="3.74" stroke-linecap="round" stroke-linejoin="round"/>
<path d="M82.0 664.9 L84.0 664.6 L86.0 664.3 L87.9 664.1 L89.9 663.8 L91.9 663.5 L93.9 663.2 L95.9 663.0 L97.9 662.7 L99.9 662.5 L101.8 662.2 L103.8 662.0 L105.8 661.7 L107.8 661.5 L109.8 661.2 L111.8 661.0 L113.8 660.7 L115.8 660.5 L117.8 660.3 L119.8 660.0 L121.8 659.8 L123.8 659.6 L125.8 659.3 L127.8 659.1 L129.8 658.9 L131.8 658.6 L133.8 658.4 L135.8 658.2 L137.8 658.0 L139.8 657.7 L141.8 657.5 L143.9 657.3 L145.9 657.0 L147.9 656.8 L149.9 656.6 L151.9 656.4 L153.9 656.1 L155.9 655.9 L157.9 655.7 L159.9 655.4 L161.9 655.2 L163.9 654.9 L165.9 654.7 L167.9 654.5 L169.9 654.2 L172.0 654.0 L174.0 653.7 L176.0 653.5 L178.0 653.2 L180.0 652.9 L182.0 652.7 L184.0 652.4 L186.0 652.1 L188.0 651.9 L190.0 651.6 L192.0 651.3 L194.0 651.0 L196.0 650.7 L198.0 650.4 L200.0 650.1 L202.0 649.8 L204.0 649.5 L206.0 649.2 L208.0 648.9 L210.0 648.6 L212.0 648.2 L213.9 647.9 L215.9 647.6 L217.9 647.2 L219.9 646.9 L221.9 646.5 L223.9 646.2 L225.9 645.8 L227.8 645.4 L229.8 645.1 L231.8 644.7 L233.8 644.3 L235.8 643.9 L237.7 643.5 L239.7 643.1 L241.7 642.7 L243.6 642.3 L245.6 641.8 L247.6 641.4 L249.5 641.0 L251.5 640.5 L253.5 640.1 L255.4 639.6 L257.4 639.2 L259.3 638.7 L261.3 638.2 L263.2 637.8 L265.2 637.3 L267.1 636.8 L269.1 636.3 L271.0 635.8 L273.0 635.3 L274.9 634.8 L276.8 634.2 L278.8 633.7 L280.7 633.2 L282.6 632.6 L284.6 632.1 L286.5 631.5 L288.4 630.9 L290.3 630.4 L292.2 629.8 L294.2 629.2 L296.1 628.6 L298.0 628.0 L299.9 627.4 L301.8 626.8 L303.7 626.2 L305.6 625.5 L307.5 624.9 L309.4 624.2 L311.3 623.6 L313.2 622.9 L315.0 622.2 L316.9 621.6 L318.8 620.9 L320.7 620.2 L322.5 619.5 L324.4 618.8 L326.3 618.0 L328.1 617.3 L330.0 616.6 L331.9 615.8 L333.7 615.1 L335.6 614.3 L337.4 613.6 L339.3 612.8 L341.1 612.0 L342.9 611.2 L344.8 610.4 L346.6 609.6 L348.4 608.8 L350.2 607.9 L352.1 607.1 L353.9 606.2 L355.7 605.4 L357.5 604.5 L359.3 603.6 L361.1 602.8 L362.9 601.9 L364.7 601.0 L366.5 600.1 L368.3 599.2 L370.1 598.2 L371.9 597.3 L373.6 596.4 L375.4 595.4 L377.2 594.5 L379.0 593.5 L380.7 592.6 L382.5 591.6 L384.3 590.6 L386.0 589.7 L387.8 588.7 L389.5 587.7 L391.3 586.7 L393.0 585.7 L394.8 584.7 L396.5 583.7 L398.3 582.6 L400.0 581.6 L401.8 580.6 L403.5 579.6 L405.2 578.5 L407.0 577.5 L408.7 576.4 L410.4 575.4 L412.2 574.3 L413.9 573.3 L415.6 572.2 L417.3 571.1 L419.1 570.1 L420.8 569.0 L422.5 567.9 L424.2 566.8 L425.9 565.8 L427.6 564.7 L429.4 563.6 L431.1 562.5 L432.8 561.4 L434.5 560.3 L436.2 559.2 L437.9 558.1 L439.6 557.0 L441.3 556.0 L443.0 554.9 L444.7 553.8 L446.4 552.6 L448.1 551.5 L449.8 550.4 L451.5 549.3 L453.2 548.2 L454.9 547.1 L456.6 546.0 L458.3 544.9 L460.0 543.8 L461.7 542.7 L463.4 541.6 L465.1 540.5 L466.8 539.4 L468.5 538.3 L470.2 537.2 L471.9 536.1 L473.6 535.0 L475.3 533.9 L477.0 532.8 L478.7 531.7 L480.4 530.6 L482.0 529.5 L483.7 528.5 L485.4 527.4 L487.1 526.3 L488.8 525.2 L490.5 524.1 L492.2 523.1 L493.9 522.0 L495.6 520.9 L497.3 519.9 L499.0 518.8 L500.7 517.7 L502.4 516.7 L504.1 515.6 L505.8 514.6 L507.5 513.6 L509.2 512.5 L510.9 511.5 L512.7 510.5 L514.4 509.4 L516.1 508.4 L517.8 507.4 L519.5 506.4" fill="none" stroke="#e01ee0" stroke-width="3.74" stroke-linecap="round" stroke-linejoin="round"/>
<path d="M82.0 669.5 L84.0 669.2 L85.9 668.9 L87.9 668.6 L89.9 668.4 L91.9 668.1 L93.9 667.8 L95.8 667.5 L97.8 667.3 L99.8 667.0 L101.8 666.7 L103.8 666.4 L105.8 666.2 L107.8 665.9 L109.7 665.6 L111.7 665.4 L113.7 665.1 L115.7 664.8 L117.7 664.6 L119.7 664.3 L121.7 664.0 L123.7 663.8 L125.7 663.5 L127.7 663.2 L129.7 663.0 L131.7 662.7 L133.7 662.4 L135.7 662.2 L137.7 661.9 L139.7 661.6 L141.7 661.4 L143.7 661.1 L145.7 660.8 L147.7 660.6 L149.7 660.3 L151.7 660.0 L153.7 659.8 L155.7 659.5 L157.7 659.2 L159.7 658.9 L161.7 658.7 L163.7 658.4 L165.7 658.1 L167.7 657.8 L169.7 657.5 L171.7 657.3 L173.7 657.0 L175.7 656.7 L177.7 656.4 L179.7 656.1 L181.7 655.8 L183.7 655.5 L185.7 655.2 L187.7 654.9 L189.7 654.6 L191.7 654.3 L193.7 654.0 L195.7 653.7 L197.7 653.3 L199.7 653.0 L201.7 652.7 L203.7 652.4 L205.7 652.0 L207.6 651.7 L209.6 651.4 L211.6 651.0 L213.6 650.7 L215.6 650.3 L217.6 650.0 L219.6 649.6 L221.6 649.3 L223.5 648.9 L225.5 648.5 L227.5 648.2 L229.5 647.8 L231.5 647.4 L233.4 647.0 L235.4 646.6 L237.4 646.2 L239.4 645.8 L241.3 645.4 L243.3 645.0 L245.3 644.6 L247.2 644.2 L249.2 643.8 L251.2 643.3 L253.1 642.9 L255.1 642.4 L257.0 642.0 L259.0 641.5 L260.9 641.1 L262.9 640.6 L264.8 640.1 L266.8 639.7 L268.7 639.2 L270.7 638.7 L272.6 638.2 L274.6 637.7 L276.5 637.2 L278.4 636.7 L280.4 636.1 L282.3 635.6 L284.2 635.1 L286.1 634.5 L288.1 634.0 L290.0 633.4 L291.9 632.9 L293.8 632.3 L295.7 631.7 L297.6 631.1 L299.6 630.5 L301.5 629.9 L303.4 629.3 L305.3 628.7 L307.2 628.1 L309.1 627.4 L310.9 626.8 L312.8 626.1 L314.7 625.5 L316.6 624.8 L318.5 624.1 L320.4 623.4 L322.2 622.7 L324.1 622.0 L326.0 621.3 L327.8 620.6 L329.7 619.9 L331.5 619.1 L333.4 618.4 L335.2 617.6 L337.1 616.9 L338.9 616.1 L340.8 615.3 L342.6 614.5 L344.4 613.7 L346.3 612.9 L348.1 612.1 L349.9 611.2 L351.7 610.4 L353.6 609.5 L355.4 608.7 L357.2 607.8 L359.0 606.9 L360.8 606.0 L362.6 605.1 L364.4 604.2 L366.2 603.3 L367.9 602.4 L369.7 601.4 L371.5 600.5 L373.3 599.6 L375.1 598.6 L376.8 597.6 L378.6 596.7 L380.4 595.7 L382.1 594.7 L383.9 593.7 L385.6 592.7 L387.4 591.7 L389.2 590.7 L390.9 589.7 L392.7 588.6 L394.4 587.6 L396.1 586.6 L397.9 585.5 L399.6 584.5 L401.4 583.5 L403.1 582.4 L404.8 581.3 L406.5 580.3 L408.3 579.2 L410.0 578.2 L411.7 577.1 L413.4 576.0 L415.2 574.9 L416.9 573.9 L418.6 572.8 L420.3 571.7 L422.0 570.6 L423.7 569.5 L425.4 568.4 L427.2 567.3 L428.9 566.2 L430.6 565.1 L432.3 564.0 L434.0 562.9 L435.7 561.8 L437.4 560.7 L439.1 559.6 L440.8 558.5 L442.5 557.4 L444.2 556.3 L445.9 555.2 L447.6 554.1 L449.2 553.0 L450.9 551.9 L452.6 550.8 L454.3 549.7 L456.0 548.6 L457.7 547.5 L459.4 546.4 L461.1 545.3 L462.8 544.2 L464.4 543.1 L466.1 542.0 L467.8 540.9 L469.5 539.8 L471.2 538.7 L472.8 537.6 L474.5 536.5 L476.2 535.3 L477.9 534.2 L479.6 533.1 L481.2 532.0 L482.9 530.9 L484.6 529.8 L486.2 528.7 L487.9 527.6 L489.6 526.5 L491.3 525.4 L492.9 524.3 L494.6 523.1 L496.3 522.0 L497.9 520.9 L499.6 519.8 L501.3 518.7 L502.9 517.6 L504.6 516.5 L506.2 515.4 L507.9 514.2 L509.6 513.1 L511.2 512.0 L512.9 510.9 L514.5 509.8 L516.2 508.6 L517.8 507.5 L519.5 506.4" fill="none" stroke="#e01ee0" stroke-width="3.74" stroke-linecap="round" stroke-linejoin="round"/>
<path d="M160.0 664.3 L162.0 664.1 L164.0 663.9 L166.0 663.7 L168.0 663.5 L170.0 663.3 L172.0 663.1 L174.0 662.9 L176.0 662.7 L178.0 662.5 L180.0 662.3 L182.0 662.0 L184.0 661.8 L186.0 661.6 L188.0 661.4 L190.0 661.2 L192.0 661.0 L194.0 660.7 L196.0 660.5 L198.0 660.3 L200.0 660.0 L202.0 659.8 L204.0 659.6 L206.0 659.3 L208.0 659.1 L210.0 658.8 L212.0 658.6 L214.0 658.3 L216.0 658.1 L218.0 657.8 L220.0 657.6 L222.0 657.3 L224.0 657.0 L226.0 656.8 L228.0 656.5 L230.0 656.2 L232.0 655.9 L234.0 655.6 L236.0 655.4 L238.0 655.1 L240.0 654.8 L242.0 654.5 L244.0 654.2 L245.9 653.8 L247.9 653.5 L249.9 653.2 L251.9 652.9 L253.9 652.6 L255.9 652.2 L257.9 651.9 L259.9 651.5 L261.8 651.2 L263.8 650.8 L265.8 650.5 L267.8 650.1 L269.7 649.8 L271.7 649.4 L273.7 649.0 L275.7 648.6 L277.6 648.2 L279.6 647.8 L281.6 647.4 L283.5 647.0 L285.5 646.6 L287.5 646.2 L289.4 645.8 L291.4 645.4 L293.4 644.9 L295.3 644.5 L297.3 644.0 L299.2 643.6 L301.2 643.1 L303.1 642.7 L305.1 642.2 L307.0 641.7 L309.0 641.2 L310.9 640.8 L312.8 640.3 L314.8 639.8 L316.7 639.3 L318.6 638.8 L320.6 638.2 L322.5 637.7 L324.4 637.2 L326.4 636.6 L328.3 636.1 L330.2 635.6 L332.1 635.0 L334.0 634.4 L336.0 633.9 L337.9 633.3 L339.8 632.7 L341.7 632.1 L343.6 631.6 L345.5 631.0 L347.4 630.4 L349.3 629.7 L351.2 629.1 L353.1 628.5 L355.0 627.9 L356.9 627.2 L358.8 626.6 L360.7 626.0 L362.5 625.3 L364.4 624.6 L366.3 624.0 L368.2 623.3 L370.1 622.6 L371.9 621.9 L373.8 621.2 L375.7 620.5 L377.5 619.8 L379.4 619.1 L381.2 618.4 L383.1 617.7 L385.0 616.9 L386.8 616.2 L388.7 615.4 L390.5 614.7 L392.3 613.9 L394.2 613.2 L396.0 612.4 L397.9 611.6 L399.7 610.8 L401.5 610.0 L403.3 609.2 L405.2 608.4 L407.0 607.6 L408.8 606.8 L410.6 606.0 L412.4 605.1 L414.2 604.3 L416.1 603.4 L417.9 602.6 L419.7 601.7 L421.5 600.9 L423.3 600.0 L425.0 599.1 L426.8 598.2 L428.6 597.3 L430.4 596.4 L432.2 595.5 L434.0 594.6 L435.8 593.7 L437.5 592.8 L439.3 591.8 L441.1 590.9 L442.8 590.0 L444.6 589.0 L446.4 588.1 L448.1 587.1 L449.9 586.2 L451.6 585.2 L453.4 584.2 L455.2 583.2 L456.9 582.3 L458.7 581.3 L460.4 580.3 L462.1 579.3 L463.9 578.3 L465.6 577.3 L467.4 576.3 L469.1 575.3 L470.8 574.3 L472.6 573.2 L474.3 572.2 L476.0 571.2 L477.7 570.1 L479.5 569.1 L481.2 568.1 L482.9 567.0 L484.6 566.0 L486.3 564.9 L488.1 563.9 L489.8 562.8 L491.5 561.7 L493.2 560.7 L494.9 559.6 L496.6 558.5 L498.3 557.4 L500.0 556.4 L501.7 555.3 L503.4 554.2 L505.1 553.1 L506.8 552.0 L508.5 550.9 L510.2 549.8 L511.9 548.7 L513.6 547.6 L515.3 546.5 L517.0 545.4 L518.7 544.3 L520.4 543.2 L522.0 542.1 L523.7 540.9 L525.4 539.8 L527.1 538.7 L528.8 537.6 L530.4 536.5 L532.1 535.3 L533.8 534.2 L535.5 533.1 L537.2 531.9 L538.8 530.8 L540.5 529.7 L542.2 528.5 L543.8 527.4 L545.5 526.3 L547.2 525.1 L548.9 524.0 L550.5 522.8 L552.2 521.7 L553.9 520.6 L555.5 519.4 L557.2 518.3 L558.8 517.1 L560.5 516.0 L562.2 514.8 L563.8 513.7 L565.5 512.5 L567.2 511.4 L568.8 510.2 L570.5 509.1 L572.1 507.9 L573.8 506.8 L575.5 505.6 L577.1 504.5 L578.8 503.3 L580.4 502.2 L582.1 501.0 L583.7 499.9 L585.4 498.7 L587.0 497.6 L588.7 496.5 L590.4 495.3 L592.0 494.2 L593.7 493.0 L595.3 491.9 L597.0 490.7 L598.6 489.6 L600.3 488.5 L601.9 487.3 L603.6 486.2 L605.2 485.0 L606.9 483.9 L608.6 482.8 L610.2 481.7 L611.9 480.5 L613.5 479.4 L615.2 478.3 L616.8 477.1 L618.5 476.0 L620.1 474.9 L621.8 473.8 L623.4 472.7 L625.1 471.6 L626.8 470.4 L628.4 469.3 L630.1 468.2 L631.7 467.1 L633.4 466.0 L635.0 464.9 L636.7 463.8 L638.4 462.7 L640.0 461.6 L641.7 460.6 L643.3 459.5 L645.0 458.4" fill="none" stroke="#c01438" stroke-width="4.40" stroke-linecap="round" stroke-linejoin="round"/>
<path d="M87.2 693.2 L88.0 691.0 L88.9 689.1 L90.0 687.3 L91.1 685.7 L92.4 684.3 L93.8 683.0 L95.3 681.9 L96.9 680.9 L98.6 680.0 L100.3 679.1 L102.1 678.4 L103.9 677.8 L105.8 677.2 L107.7 676.6 L109.7 676.1 L111.6 675.7 L113.6 675.2 L115.5 674.7 L117.5 674.3 L119.4 673.8 L121.4 673.4 L123.4 673.0 L125.3 672.6 L127.3 672.2 L129.3 671.8 L131.2 671.4 L133.2 671.0 L135.2 670.6 L137.1 670.2 L139.1 669.9 L141.1 669.5 L143.1 669.2 L145.1 668.8 L147.0 668.5 L149.0 668.2 L151.0 667.8 L153.0 667.5 L155.0 667.2 L157.0 666.9 L158.9 666.6 L160.9 666.3 L162.9 666.0 L164.9 665.7 L166.9 665.4 L168.9 665.2 L170.9 664.9 L172.9 664.6 L174.9 664.3 L176.9 664.1 L178.9 663.8 L180.9 663.5 L182.9 663.3 L184.9 663.0 L186.8 662.8 L188.8 662.5 L190.8 662.3 L192.8 662.0 L194.8 661.8 L196.8 661.6 L198.8 661.3 L200.8 661.1 L202.8 660.8 L204.8 660.6 L206.8 660.4 L208.8 660.1 L210.9 659.9 L212.9 659.6 L214.9 659.4 L216.9 659.2 L218.9 658.9 L220.9 658.7 L222.9 658.5 L224.9 658.2 L226.9 658.0 L228.9 657.7 L230.9 657.5 L232.9 657.2 L234.9 657.0 L236.8 656.7 L238.8 656.5 L240.8 656.2 L242.8 656.0 L244.8 655.7 L246.8 655.4 L248.8 655.2 L250.8 654.9 L252.8 654.6 L254.8 654.3 L256.8 654.1 L258.8 653.8 L260.8 653.5 L262.8 653.2 L264.7 652.9 L266.7 652.6 L268.7 652.3 L270.7 651.9 L272.7 651.6 L274.7 651.3 L276.6 651.0 L278.6 650.6 L280.6 650.3 L282.6 649.9 L284.6 649.6 L286.5 649.2 L288.5 648.8 L290.5 648.4 L292.4 648.0 L294.4 647.7 L296.4 647.2 L298.3 646.8 L300.3 646.4 L302.3 646.0 L304.2 645.5 L306.2 645.1 L308.1 644.6 L310.1 644.2 L312.0 643.7 L314.0 643.2 L315.9 642.8 L317.9 642.3 L319.8 641.8 L321.8 641.2 L323.7 640.7 L325.6 640.2 L327.6 639.7 L329.5 639.1 L331.4 638.6 L333.4 638.0 L335.3 637.4 L337.2 636.9 L339.1 636.3 L341.0 635.7 L343.0 635.1 L344.9 634.5 L346.8 633.9 L348.7 633.3 L350.6 632.6 L352.5 632.0 L354.4 631.3 L356.3 630.7 L358.2 630.0 L360.1 629.4 L362.0 628.7 L363.9 628.0 L365.8 627.3 L367.7 626.6 L369.5 625.9 L371.4 625.2 L373.3 624.5 L375.2 623.8 L377.0 623.0 L378.9 622.3 L380.8 621.6 L382.6 620.8 L384.5 620.0 L386.4 619.3 L388.2 618.5 L390.1 617.7 L391.9 616.9 L393.8 616.1 L395.6 615.3 L397.4 614.5 L399.3 613.7 L401.1 612.9 L402.9 612.0 L404.8 611.2 L406.6 610.3 L408.4 609.5 L410.2 608.6 L412.0 607.8 L413.8 606.9 L415.6 606.0 L417.5 605.1 L419.3 604.2 L421.0 603.3 L422.8 602.4 L424.6 601.5 L426.4 600.6 L428.2 599.7 L430.0 598.8 L431.8 597.8 L433.5 596.9 L435.3 595.9 L437.1 595.0 L438.8 594.0 L440.6 593.0 L442.3 592.1 L444.1 591.1 L445.8 590.1 L447.6 589.1 L449.3 588.1 L451.1 587.1 L452.8 586.1 L454.5 585.1 L456.2 584.1 L458.0 583.0 L459.7 582.0 L461.4 581.0 L463.1 579.9 L464.8 578.9 L466.6 577.8 L468.3 576.8 L470.0 575.7 L471.7 574.7 L473.4 573.6 L475.1 572.6 L476.8 571.5 L478.5 570.4 L480.2 569.4 L481.9 568.3 L483.6 567.2 L485.3 566.1 L487.0 565.1 L488.7 564.0 L490.4 562.9 L492.1 561.8 L493.8 560.7 L495.4 559.7 L497.1 558.6 L498.8 557.5 L500.5 556.4 L502.2 555.3 L503.9 554.2 L505.6 553.1 L507.3 552.0 L509.0 551.0 L510.7 549.9 L512.4 548.8 L514.1 547.7 L515.7 546.6 L517.4 545.5 L519.1 544.4 L520.8 543.4 L522.5 542.3 L524.2 541.2 L525.9 540.1 L527.6 539.1 L529.3 538.0 L531.0 536.9 L532.7 535.8 L534.4 534.8 L536.1 533.7 L537.8 532.6 L539.6 531.5 L541.3 530.5 L543.0 529.4 L544.7 528.3 L546.4 527.3 L548.1 526.2 L549.8 525.1 L551.5 524.1 L553.2 523.0 L554.9 521.9 L556.6 520.8 L558.3 519.8 L560.0 518.7 L561.7 517.6 L563.4 516.5 L565.1 515.5 L566.8 514.4 L568.5 513.3 L570.2 512.2 L571.9 511.1 L573.6 510.0 L575.2 508.9 L576.9 507.9 L578.6 506.8 L580.3 505.7 L582.0 504.6 L583.7 503.5 L585.3 502.4 L587.0 501.3 L588.7 500.1 L590.4 499.0 L592.0 497.9 L593.7 496.8 L595.4 495.7 L597.0 494.6 L598.7 493.4 L600.3 492.3 L602.0 491.2 L603.7 490.0 L605.3 488.9 L606.9 487.7 L608.6 486.6 L610.2 485.4 L611.9 484.3 L613.5 483.1 L615.1 481.9 L616.7 480.8 L618.4 479.6 L620.0 478.4 L621.6 477.2 L623.2 476.0 L624.8 474.8 L626.4 473.6 L628.0 472.4 L629.6 471.2 L631.2 470.0 L632.8 468.7 L634.3 467.5 L635.9 466.3 L637.5 465.0 L639.0 463.8 L640.6 462.5 L642.1 461.3 L643.7 460.0 L645.2 458.7 L646.7 457.4 L648.2 456.1 L649.7 454.7 L651.2 453.3 L652.6 451.9 L654.0 450.5" fill="none" stroke="#d81818" stroke-width="3.96" stroke-linecap="round" stroke-linejoin="round"/>
<path d="M654.0 450.5 L652.3 451.6 L650.7 452.8 L649.0 453.9 L647.4 455.1 L645.7 456.2 L644.0 457.4 L642.4 458.5 L640.7 459.6 L639.0 460.8 L637.4 461.9 L635.7 463.0 L634.0 464.2 L632.4 465.3 L630.7 466.4 L629.1 467.5 L627.4 468.7 L625.7 469.8 L624.1 470.9 L622.4 472.0 L620.7 473.2 L619.1 474.3 L617.4 475.4 L615.7 476.5 L614.1 477.6 L612.4 478.8 L610.7 479.9 L609.1 481.0 L607.4 482.1 L605.8 483.2 L604.1 484.4 L602.4 485.5 L600.8 486.6 L599.1 487.7 L597.4 488.8 L595.8 489.9 L594.1 491.0 L592.4 492.2 L590.8 493.3 L589.1 494.4 L587.4 495.5 L585.8 496.6 L584.1 497.7 L582.4 498.9 L580.8 500.0 L579.1 501.1 L577.4 502.2 L575.8 503.3 L574.1 504.4 L572.4 505.6 L570.8 506.7 L569.1 507.8 L567.4 508.9 L565.8 510.0 L564.1 511.1 L562.4 512.3 L560.8 513.4 L559.1 514.5 L557.4 515.6 L555.8 516.8 L554.1 517.9 L552.4 519.0 L550.8 520.1 L549.1 521.3 L547.4 522.4 L545.7 523.5 L544.1 524.6 L542.4 525.8 L540.7 526.9 L539.1 528.0 L537.4 529.1 L535.7 530.3 L534.0 531.4 L532.4 532.5 L530.7 533.6 L529.0 534.7 L527.3 535.9 L525.7 537.0 L524.0 538.1 L522.3 539.2 L520.6 540.3 L518.9 541.5 L517.3 542.6 L515.6 543.7 L513.9 544.8 L512.2 545.9 L510.5 547.0 L508.8 548.1 L507.2 549.2 L505.5 550.3 L503.8 551.4 L502.1 552.5 L500.4 553.6 L498.7 554.7 L497.0 555.8 L495.3 556.9 L493.6 558.0 L491.9 559.1 L490.2 560.2 L488.5 561.2 L486.8 562.3 L485.1 563.4 L483.4 564.5 L481.7 565.5 L480.0 566.6 L478.2 567.7 L476.5 568.7 L474.8 569.8 L473.1 570.8 L471.4 571.9 L469.7 572.9 L467.9 574.0 L466.2 575.0 L464.5 576.0 L462.7 577.1 L461.0 578.1 L459.3 579.1 L457.5 580.1 L455.8 581.1 L454.1 582.2 L452.3 583.2 L450.6 584.2 L448.8 585.2 L447.1 586.1 L445.3 587.1 L443.6 588.1 L441.8 589.1 L440.1 590.1 L438.3 591.0 L436.5 592.0 L434.8 593.0 L433.0 593.9 L431.2 594.8 L429.4 595.8 L427.7 596.7 L425.9 597.7 L424.1 598.6 L422.3 599.5 L420.5 600.4 L418.7 601.3 L416.9 602.2 L415.1 603.1 L413.3 604.0 L411.5 604.9 L409.7 605.7 L407.9 606.6 L406.1 607.5 L404.3 608.3 L402.5 609.2 L400.6 610.0 L398.8 610.9 L397.0 611.7 L395.2 612.5 L393.3 613.3 L391.5 614.1 L389.6 614.9 L387.8 615.7 L385.9 616.5 L384.1 617.3 L382.2 618.0 L380.4 618.8 L378.5 619.5 L376.6 620.3 L374.8 621.0 L372.9 621.7 L371.0 622.5 L369.2 623.2 L367.3 623.9 L365.4 624.5 L363.5 625.2 L361.6 625.9 L359.7 626.5 L357.8 627.2 L355.9 627.8 L354.0 628.4 L352.1 629.1 L350.2 629.7 L348.3 630.3 L346.4 630.8 L344.4 631.4 L342.5 632.0 L340.6 632.5 L338.6 633.1 L336.7 633.6 L334.8 634.1 L332.8 634.6 L330.9 635.1 L329.0 635.6 L327.0 636.1 L325.1 636.6 L323.1 637.1 L321.2 637.5 L319.2 638.0 L317.2 638.4 L315.3 638.9 L313.3 639.3 L311.4 639.7 L309.4 640.1 L307.4 640.5 L305.5 640.9 L303.5 641.3 L301.5 641.7 L299.5 642.1 L297.6 642.4 L295.6 642.8 L293.6 643.2 L291.6 643.5 L289.6 643.9 L287.7 644.2 L285.7 644.5 L283.7 644.9 L281.7 645.2 L279.7 645.5 L277.7 645.8 L275.7 646.1 L273.7 646.4 L271.8 646.7 L269.8 647.0 L267.8 647.3 L265.8 647.6 L263.8 647.9 L261.8 648.2 L259.8 648.4 L257.8 648.7 L255.8 649.0 L253.8 649.3 L251.8 649.5 L249.8 649.8 L247.8 650.0 L245.8 650.3 L243.8 650.6 L241.8 650.8 L239.8 651.1 L237.8 651.3 L235.8 651.5 L233.8 651.8 L231.8 652.0 L229.8 652.3 L227.8 652.5 L225.8 652.8 L223.8 653.0 L221.8 653.2 L219.8 653.5 L217.8 653.7 L215.8 654.0 L213.8 654.2 L211.8 654.5 L209.8 654.7 L207.8 654.9 L205.8 655.2 L203.8 655.4 L201.8 655.7 L199.8 655.9 L197.8 656.2 L195.8 656.4 L193.8 656.7 L191.8 656.9 L189.8 657.2 L187.8 657.4 L185.8 657.7 L183.8 657.9 L181.8 658.2 L179.8 658.4 L177.8 658.7 L175.8 659.0 L173.9 659.2 L171.9 659.5 L169.9 659.7 L167.9 660.0 L165.9 660.3 L163.9 660.5 L161.9 660.8 L159.9 661.1 L157.9 661.3 L155.9 661.6 L153.9 661.9 L151.9 662.1 L150.0 662.4 L148.0 662.7 L146.0 662.9 L144.0 663.2 L142.0 663.5 L140.0 663.8 L138.0 664.0 L136.0 664.3 L134.0 664.6 L132.0 664.8 L130.0 665.1 L128.1 665.4 L126.1 665.6 L124.1 665.9 L122.1 666.2 L120.1 666.4 L118.1 666.7 L116.1 667.0 L114.1 667.2 L112.1 667.5 L110.1 667.8 L108.1 668.0 L106.1 668.3 L104.2 668.6 L102.2 668.8 L100.2 669.1 L98.2 669.4 L96.2 669.6 L94.2 669.9 L92.2 670.1 L90.2 670.4 L88.2 670.6 L86.2 670.9 L84.2 671.1 L82.2 671.4" fill="none" stroke="#d81818" stroke-width="3.96" stroke-linecap="round" stroke-linejoin="round"/>
<path d="M82.0 671.4 L82.0 692.8" fill="none" stroke="#d81818" stroke-width="3.30" stroke-linecap="round" stroke-linejoin="round"/>
<line x1="84.0" y1="846.5" x2="199.5" y2="846.5" stroke="#4a4a4a" stroke-width="1.5" stroke-dasharray="1.8 1.75"/>
<text x="206.3" y="856.2" font-size="18.5" text-anchor="start">1.12</text>
<line x1="80.0" y1="984.9" x2="223.1" y2="984.9" stroke="#4a4a4a" stroke-width="1.5" stroke-dasharray="1.8 1.75"/>
<text x="229.2" y="992.3" font-size="18.5" text-anchor="start">0.69</text>
<line x1="386.9" y1="1170.8" x2="520.0" y2="1170.8" stroke="#4a4a4a" stroke-width="1.5" stroke-dasharray="1.8 1.75"/>
<line x1="520.9" y1="1178.3" x2="685.6" y2="1178.3" stroke="#4a4a4a" stroke-width="1.5" stroke-dasharray="1.8 1.75"/>
<text x="660.4" y="1171.9" font-size="18.5" text-anchor="start">0.09</text>
<line x1="537.7" y1="1091.7" x2="518.2" y2="1166.5" stroke="#4a4a4a" stroke-width="1.5" stroke-dasharray="1.8 1.75"/>
<text x="518.9" y="1077.8" font-size="18.5" text-anchor="start">0.11</text>
<line x1="635.2" y1="1124.8" x2="620.4" y2="1173.0" stroke="#4a4a4a" stroke-width="1.5" stroke-dasharray="1.8 1.75"/>
<text x="624.8" y="1113.3" font-size="18.5" text-anchor="start">0.10</text>
<path d="M399.4 1103.0 L401.4 1103.5 L403.4 1104.0 L405.3 1104.6 L407.3 1105.1 L409.2 1105.7 L411.1 1106.4 L413.1 1107.0 L415.0 1107.7 L416.9 1108.4 L418.7 1109.1 L420.6 1109.9 L422.5 1110.7 L424.4 1111.5 L426.2 1112.3 L428.0 1113.2 L429.9 1114.0 L431.7 1114.9 L433.5 1115.8 L435.3 1116.8 L437.1 1117.7 L438.9 1118.7 L440.6 1119.7 L442.4 1120.7 L444.1 1121.7 L445.9 1122.7 L447.6 1123.8 L449.3 1124.9 L451.0 1125.9 L452.7 1127.0 L454.5 1128.0 L456.2 1129.0 L458.0 1129.9 L459.8 1130.8 L461.6 1131.5 L463.5 1132.2 L465.4 1132.8 L467.3 1133.3 L469.2 1133.9 L471.1 1134.4 L473.1 1134.8 L475.0 1135.3 L477.0 1135.9 L478.9 1136.4 L480.8 1137.0 L482.7 1137.7 L484.5 1138.5 L486.3 1139.3 L488.1 1140.3 L489.9 1141.2 L491.6 1142.2 L493.4 1143.3 L495.1 1144.4 L496.8 1145.5 L498.5 1146.6 L500.2 1147.6 L502.0 1148.7 L503.7 1149.8 L505.5 1150.8 L507.2 1151.7 L509.0 1152.7 L510.9 1153.5 L512.7 1154.4 L514.5 1155.1 L516.4 1155.9 L518.3 1156.6 L520.1 1157.3 L522.1 1157.9 L524.0 1158.5 L525.9 1159.0 L527.9 1159.5 L529.8 1160.0 L531.8 1160.4 L533.8 1160.8 L535.8 1161.2 L537.8 1161.5 L539.8 1161.8 L541.9 1162.0 L543.9 1162.2 L546.0 1162.4 L548.0 1162.5 L550.1 1162.7 L552.2 1162.7 L554.3 1162.8 L556.4 1162.8 L558.5 1162.8 L560.6 1162.9 L562.7 1162.9 L564.7 1163.0 L566.7 1163.1 L568.7 1163.4 L570.6 1163.7 L572.5 1164.2 L574.2 1164.8 L575.9 1165.5 L577.5 1166.4 L579.0 1167.5 L580.4 1168.9 L581.6 1170.5" fill="none" stroke="#101010" stroke-width="3.52" stroke-linecap="round" stroke-linejoin="round"/>
<path d="M85.8 855.2 L85.9 857.2 L86.1 859.2 L86.2 861.2 L86.4 863.2 L86.5 865.2 L86.7 867.2 L86.9 869.2 L87.1 871.2 L87.3 873.2 L87.6 875.2 L87.8 877.2 L88.1 879.2 L88.4 881.2 L88.7 883.1 L89.0 885.1 L89.3 887.1 L89.7 889.1 L90.0 891.1 L90.4 893.1 L90.8 895.1 L91.2 897.1 L91.6 899.1 L92.0 901.0 L92.4 903.0 L92.9 905.0 L93.4 906.9 L93.9 908.9 L94.4 910.9 L94.9 912.8 L95.4 914.8 L96.0 916.7 L96.6 918.6 L97.2 920.6 L97.8 922.5 L98.4 924.4 L99.0 926.3 L99.7 928.2 L100.3 930.1 L101.0 932.0 L101.7 933.9 L102.5 935.8 L103.2 937.7 L103.9 939.5 L104.7 941.4 L105.5 943.2 L106.3 945.1 L107.1 946.9 L108.0 948.7 L108.8 950.5 L109.7 952.3 L110.6 954.1 L111.5 955.9 L112.5 957.7 L113.4 959.5 L114.4 961.2 L115.4 962.9 L116.4 964.7 L117.4 966.4 L118.5 968.1 L119.5 969.8 L120.6 971.5 L121.7 973.1 L122.9 974.8 L124.0 976.4 L125.2 978.0 L126.3 979.7 L127.5 981.3 L128.8 982.8 L130.0 984.4 L131.3 986.0 L132.5 987.5 L133.8 989.0 L135.2 990.6 L136.5 992.1 L137.9 993.5 L139.2 995.0 L140.6 996.5 L142.0 997.9 L143.4 999.3 L144.9 1000.7 L146.3 1002.1 L147.8 1003.5 L149.3 1004.9 L150.8 1006.2 L152.3 1007.5 L153.8 1008.9 L155.4 1010.2 L156.9 1011.4 L158.5 1012.7 L160.1 1014.0 L161.7 1015.2 L163.3 1016.4 L164.9 1017.6 L166.6 1018.8 L168.2 1020.0 L169.9 1021.1 L171.6 1022.2 L173.2 1023.4 L174.9 1024.5 L176.7 1025.5 L178.4 1026.6 L180.1 1027.6 L181.9 1028.7 L183.6 1029.7 L185.4 1030.7 L187.1 1031.7 L188.9 1032.6 L190.7 1033.5 L192.5 1034.5 L194.3 1035.4 L196.1 1036.2 L198.0 1037.1 L199.8 1037.9 L201.6 1038.8 L203.5 1039.6 L205.3 1040.4 L207.2 1041.1 L209.1 1041.9 L211.0 1042.6 L212.8 1043.3 L214.7 1044.0 L216.6 1044.7 L218.5 1045.3 L220.4 1046.0 L222.3 1046.6 L224.2 1047.2 L226.1 1047.8 L228.1 1048.3 L230.0 1048.9 L231.9 1049.5 L233.8 1050.0 L235.8 1050.5 L237.7 1051.1 L239.6 1051.6 L241.6 1052.1 L243.5 1052.6 L245.4 1053.1 L247.4 1053.6 L249.3 1054.1 L251.3 1054.6 L253.2 1055.1 L255.1 1055.6 L257.1 1056.1 L259.0 1056.6 L261.0 1057.1 L262.9 1057.6 L264.8 1058.1 L266.8 1058.7 L268.7 1059.2 L270.6 1059.7 L272.6 1060.3 L274.5 1060.8 L276.4 1061.4 L278.3 1062.0 L280.3 1062.6 L282.2 1063.2 L284.1 1063.8 L286.0 1064.4 L287.9 1065.0 L289.8 1065.7 L291.7 1066.3 L293.6 1067.0 L295.5 1067.6 L297.4 1068.3 L299.3 1068.9 L301.2 1069.6 L303.1 1070.3 L305.0 1071.0 L306.9 1071.6 L308.8 1072.3 L310.6 1073.0 L312.5 1073.7 L314.4 1074.4 L316.3 1075.1 L318.2 1075.8 L320.1 1076.5 L321.9 1077.2 L323.8 1078.0 L325.7 1078.7 L327.6 1079.4 L329.5 1080.1 L331.3 1080.8 L333.2 1081.5 L335.1 1082.2 L337.0 1082.9 L338.9 1083.7 L340.7 1084.4 L342.6 1085.1 L344.5 1085.8 L346.4 1086.5 L348.3 1087.2 L350.1 1087.9 L352.0 1088.6 L353.9 1089.3 L355.8 1090.0 L357.7 1090.7 L359.6 1091.3 L361.4 1092.0 L363.3 1092.7 L365.2 1093.4 L367.1 1094.0 L369.0 1094.7 L370.9 1095.3 L372.8 1096.0 L374.7 1096.6 L376.6 1097.3 L378.5 1097.9 L380.4 1098.5 L382.3 1099.1 L384.2 1099.7 L386.2 1100.3 L388.1 1100.9 L390.0 1101.5 L391.9 1102.1 L393.8 1102.7 L395.8 1103.2 L397.7 1103.8 L399.6 1104.3 L401.6 1104.9 L403.5 1105.5 L405.4 1106.0 L407.4 1106.6 L409.3 1107.1 L411.2 1107.7 L413.1 1108.2 L415.1 1108.8 L417.0 1109.4 L418.9 1109.9 L420.9 1110.5 L422.8 1111.1 L424.7 1111.7 L426.6 1112.2 L428.6 1112.8 L430.5 1113.4 L432.4 1114.1 L434.3 1114.7" fill="none" stroke="#2a1a80" stroke-width="3.52" stroke-linecap="round" stroke-linejoin="round"/>
<path d="M434.3 1114.7 L436.2 1115.4 L438.1 1116.2 L440.0 1116.9 L441.9 1117.6 L443.8 1118.3 L445.7 1118.9 L447.6 1119.6 L449.6 1120.2 L451.5 1120.8 L453.4 1121.4 L455.4 1122.0 L457.3 1122.6 L459.3 1123.2 L461.2 1123.8 L463.2 1124.3 L465.1 1124.9 L467.1 1125.5 L469.0 1126.1 L471.0 1126.6 L472.9 1127.2 L474.9 1127.8 L476.8 1128.4 L478.7 1129.0 L480.7 1129.6 L482.6 1130.3 L484.5 1130.9 L486.4 1131.6 L488.3 1132.3 L490.2 1132.9 L492.1 1133.6 L494.0 1134.4 L495.9 1135.1 L497.8 1135.9 L499.6 1136.6 L501.5 1137.4 L503.3 1138.3 L505.2 1139.1 L507.0 1139.9 L508.8 1140.8 L510.6 1141.7 L512.4 1142.6 L514.2 1143.6 L516.0 1144.5 L517.8 1145.5 L519.6 1146.5 L521.4 1147.4 L523.2 1148.4 L524.9 1149.4 L526.7 1150.3 L528.5 1151.3 L530.3 1152.1 L532.2 1153.0 L534.0 1153.8 L535.9 1154.6 L537.7 1155.3 L539.6 1156.0 L541.5 1156.6 L543.4 1157.2 L545.4 1157.8 L547.3 1158.3 L549.3 1158.8 L551.2 1159.3 L553.2 1159.7 L555.2 1160.1 L557.2 1160.5 L559.2 1160.8 L561.2 1161.1 L563.2 1161.4 L565.2 1161.7 L567.3 1161.9 L569.3 1162.1 L571.4 1162.3 L573.4 1162.5 L575.5 1162.7 L577.5 1162.8 L579.6 1163.0 L581.6 1163.1 L583.7 1163.2 L585.8 1163.4 L587.8 1163.5 L589.9 1163.6 L591.9 1163.7 L594.0 1163.8 L596.0 1163.9 L598.1 1164.1 L600.1 1164.3 L602.0 1164.6 L604.0 1164.9 L605.9 1165.3 L607.7 1165.8 L609.5 1166.4 L611.3 1167.2 L612.9 1168.0 L614.5 1169.0 L616.1 1170.2 L617.5 1171.5 L618.9 1173.0" fill="none" stroke="#3030e0" stroke-width="3.52" stroke-linecap="round" stroke-linejoin="round"/>
<path d="M84.1 986.4 L85.4 987.9 L86.8 989.4 L88.1 990.9 L89.5 992.3 L90.9 993.8 L92.3 995.2 L93.8 996.6 L95.2 998.0 L96.7 999.3 L98.2 1000.7 L99.7 1002.0 L101.2 1003.4 L102.7 1004.7 L104.3 1006.0 L105.8 1007.2 L107.4 1008.5 L109.0 1009.7 L110.6 1011.0 L112.2 1012.2 L113.8 1013.3 L115.5 1014.5 L117.1 1015.7 L118.8 1016.8 L120.5 1017.9 L122.2 1019.0 L123.9 1020.1 L125.6 1021.2 L127.3 1022.2 L129.0 1023.3 L130.8 1024.3 L132.5 1025.3 L134.3 1026.3 L136.0 1027.2 L137.8 1028.2 L139.6 1029.1 L141.4 1030.0 L143.2 1030.9 L145.0 1031.8 L146.8 1032.7 L148.6 1033.5 L150.4 1034.4 L152.3 1035.2 L154.1 1036.0 L155.9 1036.8 L157.8 1037.6 L159.6 1038.3 L161.5 1039.1 L163.4 1039.8 L165.2 1040.6 L167.1 1041.3 L169.0 1042.0 L170.9 1042.7 L172.7 1043.4 L174.6 1044.0 L176.5 1044.7 L178.4 1045.3 L180.3 1046.0 L182.3 1046.6 L184.2 1047.2 L186.1 1047.9 L188.0 1048.5 L189.9 1049.1 L191.8 1049.7 L193.8 1050.3 L195.7 1050.8 L197.6 1051.4 L199.6 1052.0 L201.5 1052.5 L203.4 1053.1 L205.4 1053.6 L207.3 1054.2 L209.2 1054.7 L211.2 1055.3 L213.1 1055.8 L215.1 1056.3 L217.0 1056.9 L219.0 1057.4 L220.9 1057.9 L222.8 1058.5 L224.8 1059.0 L226.7 1059.5 L228.7 1060.0 L230.6 1060.6 L232.5 1061.1 L234.5 1061.6 L236.4 1062.2 L238.4 1062.7 L240.3 1063.2 L242.2 1063.8 L244.1 1064.3 L246.1 1064.9 L248.0 1065.5 L249.9 1066.0 L251.8 1066.6 L253.8 1067.2 L255.7 1067.8 L257.6 1068.4 L259.5 1069.1 L261.4 1069.7 L263.3 1070.3 L265.2 1071.0 L267.1 1071.6 L269.0 1072.3 L270.9 1073.0 L272.8 1073.6 L274.7 1074.3 L276.5 1075.0 L278.4 1075.7 L280.3 1076.4 L282.2 1077.1 L284.1 1077.8 L286.0 1078.6 L287.8 1079.3 L289.7 1080.0 L291.6 1080.7 L293.4 1081.5 L295.3 1082.2 L297.2 1083.0 L299.1 1083.7 L300.9 1084.5 L302.8 1085.2 L304.7 1086.0 L306.5 1086.7 L308.4 1087.5 L310.3 1088.3 L312.1 1089.0 L314.0 1089.8 L315.8 1090.6 L317.7 1091.3 L319.6 1092.1 L321.4 1092.9 L323.3 1093.6 L325.1 1094.4 L327.0 1095.2 L328.9 1095.9 L330.7 1096.7 L332.6 1097.5 L334.4 1098.2 L336.3 1099.0 L338.2 1099.7 L340.0 1100.4 L341.9 1101.2 L343.8 1101.9 L345.6 1102.6 L347.5 1103.3 L349.4 1104.0 L351.3 1104.7 L353.2 1105.3 L355.1 1105.9 L357.0 1106.6 L359.0 1107.2 L360.9 1107.8 L362.8 1108.3 L364.8 1108.9 L366.7 1109.5 L368.7 1110.0 L370.6 1110.6 L372.6 1111.1 L374.5 1111.7 L376.5 1112.3 L378.4 1112.9 L380.3 1113.5 L382.2 1114.2 L384.1 1114.9 L385.9 1115.6 L387.8 1116.4 L389.6 1117.2 L391.3 1118.1 L393.1 1119.1 L394.8 1120.1 L396.5 1121.2 L398.2 1122.4 L399.8 1123.5 L401.5 1124.7 L403.1 1125.9 L404.8 1127.1 L406.4 1128.1 L408.2 1129.1 L410.0 1130.0 L411.8 1130.7 L413.7 1131.4 L415.6 1132.0 L417.5 1132.5 L419.5 1133.0 L421.4 1133.5 L423.4 1133.9 L425.3 1134.4 L427.2 1135.0 L429.1 1135.6 L430.9 1136.3 L432.7 1137.1 L434.4 1138.1 L436.1 1139.1 L437.8 1140.1 L439.5 1141.1 L441.3 1142.1 L443.0 1143.1 L444.7 1144.1 L446.5 1145.1 L448.2 1146.1 L450.0 1147.1 L451.8 1148.0 L453.5 1149.0 L455.3 1149.9 L457.1 1150.8 L458.9 1151.7 L460.7 1152.5 L462.6 1153.3 L464.4 1154.1 L466.3 1154.9 L468.1 1155.6 L470.0 1156.3 L471.9 1157.0 L473.8 1157.6 L475.7 1158.1 L477.7 1158.6 L479.6 1159.1 L481.6 1159.5 L483.6 1159.9 L485.6 1160.2 L487.6 1160.4 L489.6 1160.7 L491.6 1160.8 L493.7 1161.0 L495.7 1161.2 L497.7 1161.3 L499.8 1161.5 L501.8 1161.7 L503.8 1161.9 L505.9 1162.1 L507.9 1162.4 L509.8 1162.7 L511.8 1163.2 L513.6 1163.8 L515.4 1164.6 L517.0 1165.6 L518.6 1166.8" fill="none" stroke="#e01ee0" stroke-width="3.52" stroke-linecap="round" stroke-linejoin="round"/>
<path d="M518.6 1166.8 L516.9 1167.3 L515.2 1167.8 L513.4 1168.2 L511.6 1168.6 L509.8 1168.8 L507.9 1169.1 L506.0 1169.2 L504.1 1169.4 L502.2 1169.5 L500.3 1169.6 L498.3 1169.6 L496.4 1169.6 L494.4 1169.6 L492.4 1169.6 L490.5 1169.5 L488.5 1169.5 L486.5 1169.4 L484.5 1169.3 L482.4 1169.1 L480.4 1169.0 L478.4 1168.8 L476.4 1168.7 L474.3 1168.5 L472.3 1168.4 L470.3 1168.2 L468.2 1168.0 L466.2 1167.9 L464.1 1167.7 L462.1 1167.5 L460.1 1167.4 L458.0 1167.2 L456.0 1167.1 L454.0 1166.9 L451.9 1166.8 L449.9 1166.6 L447.9 1166.5 L445.9 1166.4 L443.8 1166.3 L441.8 1166.1 L439.8 1166.0 L437.8 1165.9 L435.8 1165.7 L433.7 1165.6 L431.7 1165.5 L429.7 1165.4 L427.7 1165.2 L425.7 1165.1 L423.7 1164.9 L421.7 1164.8 L419.7 1164.6 L417.7 1164.5 L415.7 1164.3 L413.7 1164.1 L411.7 1163.9 L409.7 1163.7 L407.8 1163.5 L405.8 1163.3 L403.8 1163.1 L401.8 1162.8 L399.8 1162.6 L397.8 1162.3 L395.9 1162.0 L393.9 1161.7 L391.9 1161.4 L389.9 1161.1 L388.0 1160.7 L386.0 1160.4 L384.0 1160.0 L382.1 1159.6 L380.1 1159.2 L378.2 1158.8 L376.2 1158.4 L374.2 1157.9 L372.3 1157.5 L370.3 1157.0 L368.4 1156.5 L366.4 1156.1 L364.5 1155.6 L362.5 1155.1 L360.6 1154.6 L358.6 1154.1 L356.7 1153.6 L354.7 1153.1 L352.8 1152.6 L350.8 1152.1 L348.9 1151.6 L346.9 1151.1 L344.9 1150.5 L343.0 1150.1 L341.0 1149.6 L339.1 1149.1 L337.1 1148.6 L335.2 1148.1 L333.2 1147.6 L331.2 1147.2 L329.3 1146.7 L327.3 1146.3 L325.3 1145.9 L323.4 1145.4 L321.4 1145.0 L319.4 1144.6 L317.5 1144.2 L315.5 1143.8 L313.5 1143.4 L311.5 1143.1 L309.6 1142.7 L307.6 1142.3 L305.6 1141.9 L303.6 1141.6 L301.6 1141.2 L299.7 1140.9 L297.7 1140.6 L295.7 1140.2 L293.7 1139.9 L291.7 1139.6 L289.7 1139.2 L287.8 1138.9 L285.8 1138.6 L283.8 1138.3 L281.8 1138.0 L279.8 1137.7 L277.8 1137.4 L275.8 1137.1 L273.8 1136.8 L271.9 1136.5 L269.9 1136.2 L267.9 1135.9 L265.9 1135.6 L263.9 1135.3 L261.9 1135.0 L259.9 1134.7 L258.0 1134.4 L256.0 1134.1 L254.0 1133.8 L252.0 1133.5 L250.0 1133.2 L248.0 1132.9 L246.0 1132.6 L244.1 1132.3 L242.1 1132.0 L240.1 1131.7 L238.1 1131.4 L236.1 1131.1 L234.2 1130.8 L232.2 1130.5 L230.2 1130.2 L228.2 1129.8 L226.2 1129.5 L224.3 1129.2 L222.3 1128.8 L220.3 1128.5 L218.3 1128.2 L216.4 1127.8 L214.4 1127.5 L212.4 1127.1 L210.5 1126.8 L208.5 1126.4 L206.5 1126.0 L204.6 1125.7 L202.6 1125.3 L200.6 1124.9 L198.7 1124.5 L196.7 1124.2 L194.7 1123.8 L192.8 1123.4 L190.8 1123.0 L188.8 1122.6 L186.8 1122.2 L184.9 1121.8 L182.9 1121.3 L180.9 1120.9 L179.0 1120.5 L177.0 1120.1 L175.0 1119.6 L173.1 1119.2 L171.1 1118.8 L169.1 1118.3 L167.2 1117.9 L165.2 1117.4 L163.2 1116.9 L161.2 1116.5 L159.3 1116.0 L157.3 1115.5 L155.3 1115.0 L153.3 1114.6 L151.4 1114.1 L149.4 1113.6 L147.4 1113.1 L145.4 1112.6 L143.4 1112.0 L141.5 1111.5 L139.5 1110.9 L137.6 1110.3 L135.7 1109.7 L133.8 1109.0 L131.9 1108.3 L130.0 1107.6 L128.2 1106.8 L126.4 1106.0 L124.6 1105.1 L122.9 1104.1 L121.2 1103.1 L119.6 1102.0 L118.0 1100.9 L116.4 1099.7 L114.9 1098.4 L113.4 1097.1 L112.0 1095.7 L110.6 1094.3 L109.2 1092.9 L107.9 1091.4 L106.6 1089.8 L105.4 1088.2 L104.2 1086.6 L103.0 1085.0 L101.9 1083.3 L100.8 1081.6 L99.7 1079.8 L98.7 1078.1 L97.7 1076.3 L96.8 1074.5 L95.9 1072.7 L95.0 1070.8 L94.2 1069.0 L93.4 1067.1 L92.6 1065.2 L91.9 1063.4 L91.2 1061.5 L90.5 1059.6 L89.9 1057.7 L89.3 1055.8 L88.7 1053.8 L88.2 1051.9 L87.7 1050.0 L87.2 1048.0 L86.7 1046.1 L86.3 1044.2 L85.9 1042.2 L85.5 1040.2 L85.1 1038.3 L84.8 1036.3 L84.4 1034.3 L84.1 1032.3 L83.8 1030.4 L83.5 1028.4 L83.2 1026.4 L83.0 1024.4 L82.7 1022.4 L82.5 1020.4 L82.2 1018.4 L82.0 1016.4 L81.8 1014.4 L81.6 1012.4 L81.4 1010.4 L81.2 1008.4 L81.0 1006.4 L80.8 1004.4 L80.5 1002.4 L80.3 1000.4 L80.1 998.4 L79.9 996.4 L79.7 994.4 L79.5 992.4 L79.3 990.4 L79.0 988.4 L78.8 986.4" fill="none" stroke="#e01ee0" stroke-width="3.52" stroke-linecap="round" stroke-linejoin="round"/>
<path d="M80.3 950.0 L80.5 952.0 L80.6 954.1 L80.8 956.1 L81.0 958.1 L81.2 960.1 L81.4 962.1 L81.6 964.1 L81.8 966.1 L82.0 968.1 L82.2 970.1 L82.5 972.0 L82.7 974.0 L82.9 976.0 L83.2 978.0 L83.4 979.9 L83.6 981.9 L83.9 983.9 L84.1 985.8 L84.4 987.8 L84.7 989.8 L84.9 991.7 L85.2 993.7 L85.5 995.6 L85.8 997.6 L86.1 999.6 L86.4 1001.6 L86.7 1003.5 L87.0 1005.5 L87.3 1007.5 L87.6 1009.5 L87.9 1011.5 L88.2 1013.5 L88.5 1015.5 L88.9 1017.5 L89.2 1019.5 L89.5 1021.5 L89.9 1023.5 L90.2 1025.6 L90.6 1027.6 L91.0 1029.6 L91.4 1031.7 L91.8 1033.7 L92.2 1035.7 L92.6 1037.7 L93.1 1039.7 L93.5 1041.8 L94.0 1043.8 L94.5 1045.7 L95.1 1047.7 L95.6 1049.7 L96.2 1051.6 L96.8 1053.5 L97.5 1055.5 L98.2 1057.4 L98.9 1059.2 L99.6 1061.1 L100.4 1062.9 L101.2 1064.7 L102.0 1066.5 L102.9 1068.3 L103.9 1070.0 L104.8 1071.7 L105.9 1073.3 L106.9 1075.0 L108.0 1076.6 L109.2 1078.1 L110.4 1079.7 L111.6 1081.1 L112.9 1082.6 L114.3 1084.0 L115.7 1085.4 L117.1 1086.7 L118.5 1088.1 L120.0 1089.3 L121.6 1090.6 L123.1 1091.8 L124.7 1092.9 L126.4 1094.0 L128.0 1095.1 L129.7 1096.2 L131.5 1097.2 L133.2 1098.1 L135.0 1099.1 L136.8 1099.9 L138.6 1100.8 L140.4 1101.6 L142.3 1102.4 L144.1 1103.1 L146.0 1103.8 L147.9 1104.5 L149.8 1105.2 L151.8 1105.8 L153.7 1106.4 L155.7 1107.0 L157.6 1107.6 L159.6 1108.1 L161.6 1108.6 L163.6 1109.1 L165.6 1109.6 L167.6 1110.1 L169.6 1110.5 L171.6 1111.0 L173.6 1111.4 L175.6 1111.9 L177.6 1112.3 L179.6 1112.7 L181.6 1113.2 L183.6 1113.6 L185.6 1114.0 L187.6 1114.5 L189.6 1114.9 L191.6 1115.3 L193.6 1115.7 L195.6 1116.1 L197.5 1116.5 L199.5 1117.0 L201.5 1117.4 L203.5 1117.8 L205.5 1118.2 L207.4 1118.6 L209.4 1119.0 L211.4 1119.4 L213.3 1119.8 L215.3 1120.2 L217.3 1120.6 L219.2 1121.0 L221.2 1121.4 L223.2 1121.7 L225.1 1122.1 L227.1 1122.5 L229.1 1122.9 L231.0 1123.2 L233.0 1123.6 L234.9 1124.0 L236.9 1124.3 L238.9 1124.7 L240.8 1125.1 L242.8 1125.4 L244.7 1125.7 L246.7 1126.1 L248.7 1126.4 L250.6 1126.8 L252.6 1127.1 L254.5 1127.4 L256.5 1127.7 L258.5 1128.1 L260.4 1128.4 L262.4 1128.7 L264.4 1129.0 L266.3 1129.3 L268.3 1129.6 L270.3 1129.9 L272.3 1130.2 L274.2 1130.4 L276.2 1130.7 L278.2 1131.0 L280.2 1131.2 L282.2 1131.5 L284.1 1131.8 L286.1 1132.0 L288.1 1132.2 L290.1 1132.5 L292.1 1132.7 L294.1 1132.9 L296.1 1133.2 L298.1 1133.4 L300.1 1133.6 L302.1 1133.8 L304.1 1134.0 L306.1 1134.3 L308.1 1134.5 L310.1 1134.7 L312.1 1134.9 L314.2 1135.2 L316.2 1135.4 L318.2 1135.6 L320.2 1135.9 L322.2 1136.1 L324.2 1136.4 L326.2 1136.7 L328.2 1137.0 L330.2 1137.3 L332.1 1137.6 L334.1 1137.9 L336.1 1138.3 L338.1 1138.6 L340.1 1139.0 L342.1 1139.4 L344.0 1139.8 L346.0 1140.2 L348.0 1140.6 L349.9 1141.0 L351.9 1141.5 L353.9 1141.9 L355.8 1142.4 L357.8 1142.8 L359.7 1143.3 L361.7 1143.8 L363.6 1144.2 L365.6 1144.7 L367.5 1145.2 L369.5 1145.7 L371.4 1146.2 L373.4 1146.7 L375.3 1147.2 L377.3 1147.6 L379.3 1148.1 L381.2 1148.6 L383.2 1149.1 L385.1 1149.6 L387.1 1150.0 L389.0 1150.5 L391.0 1151.0 L392.9 1151.4 L394.9 1151.9 L396.8 1152.3 L398.8 1152.8 L400.7 1153.2 L402.7 1153.6 L404.7 1154.0 L406.6 1154.4 L408.6 1154.8 L410.6 1155.2 L412.5 1155.6 L414.5 1156.0 L416.5 1156.3 L418.5 1156.7 L420.4 1157.0 L422.4 1157.3 L424.4 1157.7 L426.4 1158.0 L428.4 1158.3 L430.3 1158.6 L432.3 1158.9 L434.3 1159.2 L436.3 1159.5 L438.3 1159.8 L440.3 1160.0 L442.3 1160.3 L444.3 1160.6 L446.3 1160.8 L448.3 1161.1 L450.2 1161.3 L452.2 1161.5 L454.2 1161.8 L456.2 1162.0 L458.2 1162.2 L460.2 1162.4 L462.2 1162.6 L464.2 1162.9 L466.2 1163.1 L468.2 1163.3 L470.2 1163.5 L472.2 1163.6 L474.2 1163.8 L476.2 1164.0 L478.2 1164.2 L480.2 1164.4 L482.2 1164.6 L484.3 1164.7 L486.3 1164.9 L488.3 1165.1 L490.3 1165.3 L492.3 1165.4 L494.3 1165.6 L496.3 1165.8 L498.3 1165.9 L500.3 1166.1 L502.3 1166.2 L504.3 1166.4 L506.3 1166.6 L508.3 1166.7 L510.3 1166.9 L512.3 1167.0 L514.3 1167.2 L516.3 1167.3 L518.3 1167.5 L520.3 1167.7 L522.3 1167.8 L524.3 1168.0 L526.4 1168.1 L528.4 1168.3 L530.4 1168.4 L532.4 1168.6 L534.4 1168.7 L536.4 1168.9 L538.4 1169.0 L540.4 1169.2 L542.4 1169.3 L544.4 1169.5 L546.4 1169.6 L548.4 1169.8 L550.4 1169.9 L552.4 1170.1 L554.4 1170.2 L556.4 1170.4 L558.4 1170.6 L560.4 1170.7 L562.4 1170.9 L564.4 1171.0 L566.4 1171.2 L568.4 1171.3 L570.4 1171.5 L572.4 1171.6 L574.4 1171.8 L576.4 1171.9 L578.4 1172.1 L580.4 1172.2 L582.4 1172.4 L584.4 1172.5 L586.4 1172.7 L588.4 1172.8 L590.4 1173.0 L592.4 1173.2 L594.4 1173.3 L596.4 1173.5 L598.4 1173.6 L600.4 1173.8 L602.4 1174.0 L604.4 1174.1 L606.4 1174.3 L608.5 1174.4 L610.5 1174.6 L612.5 1174.8 L614.5 1174.9 L616.5 1175.1 L618.5 1175.3 L620.5 1175.4 L622.5 1175.6 L624.5 1175.8 L626.5 1175.9 L628.5 1176.1 L630.5 1176.3 L632.5 1176.4 L634.5 1176.6 L636.5 1176.8 L638.5 1177.0 L640.5 1177.1 L642.5 1177.3 L644.5 1177.5 L646.5 1177.7 L648.5 1177.9 L650.5 1178.0 L652.5 1178.2 L654.5 1178.4" fill="none" stroke="#d81818" stroke-width="3.74" stroke-linecap="round" stroke-linejoin="round"/>
<path d="M654.5 1178.4 L653.9 1176.3 L653.1 1174.4 L652.2 1172.6 L651.2 1171.1 L650.1 1169.6 L648.8 1168.4 L647.4 1167.3 L645.9 1166.3 L644.3 1165.5 L642.6 1164.8 L640.9 1164.1 L639.0 1163.6 L637.1 1163.2 L635.2 1162.9 L633.2 1162.6 L631.2 1162.4 L629.1 1162.3 L627.0 1162.2 L624.9 1162.2 L622.7 1162.1 L620.6 1162.2 L618.5 1162.2 L616.4 1162.2 L614.3 1162.2 L612.2 1162.3 L610.1 1162.3 L608.0 1162.3 L605.9 1162.3 L603.9 1162.3 L601.8 1162.3 L599.8 1162.3 L597.8 1162.2 L595.8 1162.2 L593.8 1162.0 L591.8 1161.9 L589.8 1161.7 L587.8 1161.4 L585.9 1161.2 L583.9 1160.8 L582.0 1160.4 L580.1 1160.0 L578.2 1159.5 L576.3 1158.9 L574.4 1158.3 L572.6 1157.7 L570.7 1157.0 L568.9 1156.3 L567.0 1155.5 L565.2 1154.7 L563.4 1153.9 L561.6 1153.0 L559.8 1152.2 L557.9 1151.3 L556.1 1150.4 L554.3 1149.6 L552.5 1148.7 L550.7 1147.8 L548.9 1146.9 L547.1 1146.1 L545.2 1145.3 L543.4 1144.4 L541.6 1143.6 L539.7 1142.8 L537.9 1142.1 L536.1 1141.3 L534.2 1140.5 L532.4 1139.8 L530.5 1139.1 L528.6 1138.4 L526.8 1137.7 L524.9 1137.0 L523.0 1136.4 L521.1 1135.7 L519.3 1135.1 L517.4 1134.5 L515.5 1133.9 L513.6 1133.3 L511.6 1132.7 L509.7 1132.2 L507.8 1131.6 L505.9 1131.1 L504.0 1130.5 L502.0 1130.0 L500.1 1129.5 L498.1 1129.0 L496.2 1128.5 L494.3 1128.0 L492.3 1127.5 L490.4 1127.0 L488.4 1126.5 L486.4 1126.0 L484.5 1125.6 L482.5 1125.1 L480.6 1124.6 L478.6 1124.1 L476.7 1123.6 L474.7 1123.2 L472.8 1122.7 L470.8 1122.2 L468.9 1121.7 L466.9 1121.2 L465.0 1120.7 L463.0 1120.2 L461.1 1119.7 L459.1 1119.1 L457.2 1118.6 L455.2 1118.1 L453.3 1117.5 L451.4 1117.0 L449.4 1116.5 L447.5 1115.9 L445.6 1115.3 L443.7 1114.8 L441.7 1114.2 L439.8 1113.7 L437.9 1113.1 L435.9 1112.5 L434.0 1112.0 L432.1 1111.4 L430.2 1110.8 L428.3 1110.2 L426.3 1109.7 L424.4 1109.1 L422.5 1108.5 L420.6 1107.9 L418.7 1107.4 L416.7 1106.8 L414.8 1106.2 L412.9 1105.6 L411.0 1105.0 L409.1 1104.5 L407.1 1103.9 L405.2 1103.3 L403.3 1102.7 L401.4 1102.2 L399.4 1101.6 L397.5 1101.0 L395.6 1100.5 L393.7 1099.9 L391.8 1099.3 L389.8 1098.8 L387.9 1098.2 L386.0 1097.7 L384.0 1097.1 L382.1 1096.6 L380.2 1096.1 L378.2 1095.5 L376.3 1095.0 L374.4 1094.5 L372.4 1093.9 L370.5 1093.4 L368.6 1092.8 L366.7 1092.3 L364.7 1091.7 L362.8 1091.1 L360.9 1090.5 L359.0 1089.9 L357.1 1089.3 L355.2 1088.6 L353.3 1088.0 L351.4 1087.3 L349.5 1086.6 L347.6 1085.9 L345.8 1085.2 L343.9 1084.4 L342.1 1083.6 L340.2 1082.8 L338.4 1082.0 L336.5 1081.2 L334.7 1080.3 L332.9 1079.4 L331.0 1078.6 L329.2 1077.7 L327.4 1076.9 L325.5 1076.0 L323.7 1075.2 L321.9 1074.4 L320.0 1073.6 L318.2 1072.9 L316.3 1072.1 L314.4 1071.4 L312.6 1070.7 L310.7 1070.0 L308.8 1069.3 L306.9 1068.6 L305.0 1068.0 L303.2 1067.3 L301.3 1066.7 L299.4 1066.1 L297.5 1065.4 L295.6 1064.8 L293.7 1064.2 L291.7 1063.7 L289.8 1063.1 L287.9 1062.5 L286.0 1062.0 L284.1 1061.4 L282.1 1060.9 L280.2 1060.3 L278.3 1059.8 L276.3 1059.3 L274.4 1058.8 L272.5 1058.2 L270.5 1057.7 L268.6 1057.2 L266.6 1056.7 L264.7 1056.2 L262.7 1055.7 L260.8 1055.2 L258.8 1054.7 L256.9 1054.1 L254.9 1053.6 L253.0 1053.1 L251.0 1052.6 L249.1 1052.1 L247.2 1051.5 L245.2 1051.0 L243.3 1050.5 L241.3 1049.9 L239.4 1049.4 L237.4 1048.8 L235.5 1048.3 L233.6 1047.7 L231.7 1047.1 L229.7 1046.6 L227.8 1046.0 L225.9 1045.4 L224.0 1044.7 L222.1 1044.1 L220.2 1043.5 L218.3 1042.8 L216.4 1042.2 L214.5 1041.5 L212.6 1040.8 L210.8 1040.1 L208.9 1039.4 L207.1 1038.7 L205.2 1037.9 L203.4 1037.1 L201.5 1036.4 L199.7 1035.6 L197.9 1034.7 L196.1 1033.9 L194.3 1033.1 L192.5 1032.2 L190.7 1031.3 L188.9 1030.4 L187.2 1029.4 L185.4 1028.5 L183.7 1027.5 L182.0 1026.5 L180.3 1025.5 L178.6 1024.4 L176.9 1023.3 L175.2 1022.3 L173.5 1021.1 L171.8 1020.0 L170.2 1018.9 L168.6 1017.7 L166.9 1016.5 L165.3 1015.3 L163.7 1014.1 L162.2 1012.8 L160.6 1011.6 L159.0 1010.3 L157.5 1009.0 L156.0 1007.7 L154.4 1006.3 L152.9 1005.0 L151.5 1003.6 L150.0 1002.2 L148.5 1000.8 L147.1 999.4 L145.7 998.0 L144.2 996.5 L142.9 995.1 L141.5 993.6 L140.1 992.1 L138.8 990.6 L137.4 989.0 L136.1 987.5 L134.8 985.9 L133.5 984.4 L132.3 982.8 L131.0 981.2 L129.8 979.6 L128.6 978.0 L127.4 976.3 L126.2 974.7 L125.1 973.0 L123.9 971.4 L122.8 969.7 L121.7 968.0 L120.6 966.3 L119.6 964.6 L118.5 962.9 L117.5 961.1 L116.5 959.4 L115.5 957.6 L114.5 955.9 L113.6 954.1 L112.7 952.3 L111.8 950.5 L110.9 948.7 L110.0 946.9 L109.2 945.1 L108.4 943.3 L107.6 941.4 L106.8 939.6 L106.1 937.7 L105.3 935.9 L104.6 934.0 L103.9 932.1 L103.2 930.3 L102.6 928.4 L101.9 926.5 L101.3 924.6 L100.7 922.7 L100.1 920.8 L99.5 918.9 L99.0 917.0 L98.4 915.0 L97.9 913.1 L97.4 911.2 L96.9 909.2 L96.4 907.3 L96.0 905.3 L95.5 903.4 L95.1 901.4 L94.7 899.5 L94.3 897.5 L93.9 895.5 L93.5 893.5 L93.2 891.6 L92.8 889.6 L92.5 887.6 L92.2 885.6 L91.9 883.6 L91.6 881.6 L91.3 879.6 L91.0 877.7 L90.8 875.7 L90.5 873.7 L90.3 871.7 L90.1 869.7 L89.8 867.7 L89.6 865.7 L89.4 863.6 L89.3 861.6 L89.1 859.6 L88.9 857.6 L88.8 855.6 L88.6 853.6 L88.5 851.6 L88.3 849.6 L88.2 847.6" fill="none" stroke="#d81818" stroke-width="3.74" stroke-linecap="round" stroke-linejoin="round"/>
<path d="M80.3 848.0 L80.3 950.0" fill="none" stroke="#d81818" stroke-width="3.74" stroke-linecap="round" stroke-linejoin="round"/>
<text x="79.7" y="1242.3" font-size="20" text-anchor="middle">0.0</text>
<text x="240.9" y="1242.3" font-size="20" text-anchor="middle">0.5</text>
<text x="402.1" y="1242.3" font-size="20" text-anchor="middle">1.0</text>
<text x="563.3" y="1242.3" font-size="20" text-anchor="middle">1.5</text>
<text x="724.5" y="1242.3" font-size="20" text-anchor="middle">2.0</text>
<text transform="translate(18.3 201.5) rotate(-90)" font-size="20.4" text-anchor="middle">Cell Voltage, V</text>
<text transform="translate(16.9 605.3) rotate(-90)" font-size="20.6" text-anchor="middle">Positive Potential vs. Li/Li+, V</text>
<text transform="translate(16.2 1014.2) rotate(-90)" font-size="20.6" text-anchor="middle">Negative Potential vs. Li/Li+, V</text>
<text x="307" y="1273.8" font-size="21" textLength="179.6" lengthAdjust="spacing">Capacity, mAh cm</text>
<text x="489" y="1265.6" font-size="13.5">-2</text>
<text x="98.3" y="41.6" font-size="20" font-weight="bold" textLength="36.3" lengthAdjust="spacing">Cell</text>
<text x="98.8" y="446.6" font-size="20" font-weight="bold" textLength="33.8" lengthAdjust="spacing">Pos</text>
<text x="99.3" y="1189.6" font-size="20.5" font-weight="bold" textLength="39.8" lengthAdjust="spacing">Neg</text>
<text x="715" y="39.9" font-size="22" font-weight="bold" text-anchor="end">(a)</text>
<text x="715" y="445.9" font-size="22" font-weight="bold" text-anchor="end">(b)</text>
<text x="715.3" y="857.2" font-size="22" font-weight="bold" text-anchor="end">(c)</text>
</svg>
</body></html>
